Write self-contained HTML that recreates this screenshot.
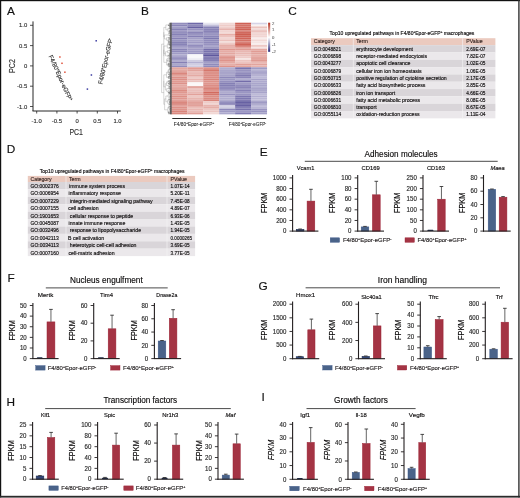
<!DOCTYPE html>
<html><head><meta charset="utf-8"><title>Figure</title>
<style>
html,body{margin:0;padding:0;background:#fff;width:520px;height:498px;overflow:hidden}
svg{display:block;will-change:transform}
text{font-family:"Liberation Sans", sans-serif}
</style></head>
<body>
<svg width="520" height="498" viewBox="0 0 520 498" font-family='"Liberation Sans", sans-serif'>
<rect width="520" height="498" fill="#fff"/>
<rect x="0" y="0" width="520" height="1.2" fill="#111"/>
<rect x="0" y="0" width="1.2" height="498" fill="#111"/>
<rect x="518.2" y="0" width="1.4" height="498" fill="#333"/>
<rect x="0" y="495.8" width="520" height="1.4" fill="#2a2a2a"/>
<rect x="0" y="497.2" width="520" height="0.8" fill="#6a6a6a"/>
<text x="7.00" y="15.40" font-size="11.8" fill="#111" stroke="#111" stroke-width="0.15">A</text>
<text x="141.00" y="15.40" font-size="11.8" fill="#111" stroke="#111" stroke-width="0.15">B</text>
<text x="288.30" y="15.30" font-size="11.8" fill="#111" stroke="#111" stroke-width="0.15">C</text>
<text x="6.80" y="152.80" font-size="11.8" fill="#111" stroke="#111" stroke-width="0.15">D</text>
<text x="259.80" y="155.80" font-size="11.8" fill="#111" stroke="#111" stroke-width="0.15">E</text>
<text x="7.60" y="281.50" font-size="11.8" fill="#111" stroke="#111" stroke-width="0.15">F</text>
<text x="258.50" y="289.50" font-size="11.8" fill="#111" stroke="#111" stroke-width="0.15">G</text>
<text x="6.60" y="405.90" font-size="11.8" fill="#111" stroke="#111" stroke-width="0.15">H</text>
<text x="261.40" y="400.80" font-size="11.8" fill="#111" stroke="#111" stroke-width="0.15">I</text>
<line x1="33" y1="21.4" x2="33" y2="111" stroke="#262626" stroke-width="1"/>
<line x1="32.5" y1="111" x2="120.8" y2="111" stroke="#262626" stroke-width="1"/>
<line x1="30" y1="25.30" x2="33" y2="25.30" stroke="#262626" stroke-width="0.8"/>
<text x="27.20" y="27.40" font-size="5.9" text-anchor="end" fill="#333" stroke="#333" stroke-width="0.15">1.0</text>
<line x1="30" y1="45.60" x2="33" y2="45.60" stroke="#262626" stroke-width="0.8"/>
<text x="27.20" y="47.70" font-size="5.9" text-anchor="end" fill="#333" stroke="#333" stroke-width="0.15">0.5</text>
<line x1="30" y1="65.90" x2="33" y2="65.90" stroke="#262626" stroke-width="0.8"/>
<text x="27.20" y="68.00" font-size="5.9" text-anchor="end" fill="#333" stroke="#333" stroke-width="0.15">0</text>
<line x1="30" y1="86.20" x2="33" y2="86.20" stroke="#262626" stroke-width="0.8"/>
<text x="27.20" y="88.30" font-size="5.9" text-anchor="end" fill="#333" stroke="#333" stroke-width="0.15">-0.5</text>
<line x1="30" y1="106.50" x2="33" y2="106.50" stroke="#262626" stroke-width="0.8"/>
<text x="27.20" y="108.60" font-size="5.9" text-anchor="end" fill="#333" stroke="#333" stroke-width="0.15">-1.0</text>
<line x1="36.70" y1="111" x2="36.70" y2="113.5" stroke="#262626" stroke-width="0.8"/>
<text x="36.70" y="122.50" font-size="5.9" text-anchor="middle" fill="#333" stroke="#333" stroke-width="0.15">-1.0</text>
<line x1="56.90" y1="111" x2="56.90" y2="113.5" stroke="#262626" stroke-width="0.8"/>
<text x="56.90" y="122.50" font-size="5.9" text-anchor="middle" fill="#333" stroke="#333" stroke-width="0.15">-0.5</text>
<line x1="77.10" y1="111" x2="77.10" y2="113.5" stroke="#262626" stroke-width="0.8"/>
<text x="77.10" y="122.50" font-size="5.9" text-anchor="middle" fill="#333" stroke="#333" stroke-width="0.15">0</text>
<line x1="97.30" y1="111" x2="97.30" y2="113.5" stroke="#262626" stroke-width="0.8"/>
<text x="97.30" y="122.50" font-size="5.9" text-anchor="middle" fill="#333" stroke="#333" stroke-width="0.15">0.5</text>
<line x1="117.50" y1="111" x2="117.50" y2="113.5" stroke="#262626" stroke-width="0.8"/>
<text x="117.50" y="122.50" font-size="5.9" text-anchor="middle" fill="#333" stroke="#333" stroke-width="0.15">1.0</text>
<text x="76.20" y="134.60" font-size="8.8" text-anchor="middle" textLength="13.50" lengthAdjust="spacingAndGlyphs" fill="#333" stroke="#333" stroke-width="0.15">PC1</text>
<text x="14.50" y="66.00" font-size="8.8" text-anchor="middle" textLength="13.80" lengthAdjust="spacingAndGlyphs" fill="#333" stroke="#333" stroke-width="0.15" transform="rotate(-90 14.50 66.00)">PC2</text>
<rect x="59.15" y="56.25" width="1.5" height="1.5" fill="#e0503a"/>
<rect x="61.25" y="62.55" width="1.5" height="1.5" fill="#e0503a"/>
<rect x="64.15" y="71.45" width="1.5" height="1.5" fill="#e0503a"/>
<rect x="95.45" y="40.05" width="1.5" height="1.5" fill="#3a3aa0"/>
<rect x="90.65" y="74.25" width="1.5" height="1.5" fill="#3a3aa0"/>
<rect x="86.65" y="88.35" width="1.5" height="1.5" fill="#3a3aa0"/>
<text x="0" y="0" font-size="6.2" fill="#333" stroke="#333" stroke-width="0.15" textLength="49.5" lengthAdjust="spacingAndGlyphs" transform="translate(48.6,56.3) rotate(66)">F4/80<tspan dy="-2.23" font-size="3.72">+</tspan><tspan dy="2.23">Epor-eGFP</tspan><tspan dy="-2.23" font-size="3.72">+</tspan><tspan dy="2.23"></tspan></text>
<text x="0" y="0" font-size="6.2" fill="#333" stroke="#333" stroke-width="0.15" textLength="47" lengthAdjust="spacingAndGlyphs" transform="translate(102.2,84.5) rotate(-77)">F4/80<tspan dy="-2.23" font-size="3.72">+</tspan><tspan dy="2.23">Epor-eGFP</tspan><tspan dy="-2.23" font-size="3.72">-</tspan><tspan dy="2.23"></tspan></text>
<rect x="171.40" y="22.70" width="15.98" height="1.91" fill="#928dbd"/>
<rect x="171.40" y="24.56" width="15.98" height="1.91" fill="#8b85b8"/>
<rect x="171.40" y="26.42" width="15.98" height="1.91" fill="#a19dc6"/>
<rect x="171.40" y="28.27" width="15.98" height="1.91" fill="#8782b6"/>
<rect x="171.40" y="30.13" width="15.98" height="1.91" fill="#9c97c3"/>
<rect x="171.40" y="31.99" width="15.98" height="1.91" fill="#948fbe"/>
<rect x="171.40" y="33.85" width="15.98" height="1.91" fill="#8681b6"/>
<rect x="171.40" y="35.71" width="15.98" height="1.91" fill="#9b96c2"/>
<rect x="171.40" y="37.57" width="15.98" height="1.91" fill="#8680b5"/>
<rect x="171.40" y="39.42" width="15.98" height="1.91" fill="#9793c0"/>
<rect x="171.40" y="41.28" width="15.98" height="1.91" fill="#8782b6"/>
<rect x="171.40" y="43.14" width="15.98" height="1.91" fill="#8883b7"/>
<rect x="171.40" y="45.00" width="15.98" height="1.91" fill="#9792c0"/>
<rect x="171.40" y="46.86" width="15.98" height="1.91" fill="#a9a5cb"/>
<rect x="171.40" y="48.72" width="15.98" height="1.91" fill="#8984b7"/>
<rect x="171.40" y="50.57" width="15.98" height="1.91" fill="#8e89ba"/>
<rect x="171.40" y="52.43" width="15.98" height="1.91" fill="#a09cc5"/>
<rect x="171.40" y="54.29" width="15.98" height="1.91" fill="#aeabce"/>
<rect x="171.40" y="56.15" width="15.98" height="1.91" fill="#9e99c4"/>
<rect x="171.40" y="58.01" width="15.98" height="1.91" fill="#9691bf"/>
<rect x="171.40" y="59.87" width="15.98" height="1.91" fill="#b0accf"/>
<rect x="171.40" y="61.72" width="15.98" height="1.91" fill="#8680b5"/>
<rect x="171.40" y="63.58" width="15.98" height="1.91" fill="#aaa7cb"/>
<rect x="171.40" y="65.44" width="15.98" height="1.91" fill="#918cbc"/>
<rect x="171.40" y="67.30" width="15.98" height="1.93" fill="#e3a69f"/>
<rect x="171.40" y="69.18" width="15.98" height="1.93" fill="#e3a7a0"/>
<rect x="171.40" y="71.06" width="15.98" height="1.93" fill="#e19e97"/>
<rect x="171.40" y="72.94" width="15.98" height="1.93" fill="#da867d"/>
<rect x="171.40" y="74.82" width="15.98" height="1.93" fill="#e2a49d"/>
<rect x="171.40" y="76.70" width="15.98" height="1.93" fill="#dd9189"/>
<rect x="171.40" y="78.58" width="15.98" height="1.93" fill="#dc8e86"/>
<rect x="171.40" y="80.46" width="15.98" height="1.93" fill="#e09b93"/>
<rect x="171.40" y="82.34" width="15.98" height="1.93" fill="#dd928a"/>
<rect x="171.40" y="84.22" width="15.98" height="1.93" fill="#e4a9a3"/>
<rect x="171.40" y="86.10" width="15.98" height="1.93" fill="#e4aaa3"/>
<rect x="171.40" y="87.98" width="15.98" height="1.93" fill="#e2a39c"/>
<rect x="171.40" y="89.86" width="15.98" height="1.93" fill="#dc8c83"/>
<rect x="171.40" y="91.74" width="15.98" height="1.93" fill="#df9890"/>
<rect x="171.40" y="93.62" width="15.98" height="1.93" fill="#e19d96"/>
<rect x="171.40" y="95.50" width="15.98" height="1.93" fill="#dd9188"/>
<rect x="171.40" y="97.38" width="15.98" height="1.93" fill="#df978f"/>
<rect x="171.40" y="99.26" width="15.98" height="1.93" fill="#e19e97"/>
<rect x="171.40" y="101.14" width="15.98" height="1.93" fill="#da877e"/>
<rect x="171.40" y="103.02" width="15.98" height="1.93" fill="#db8b83"/>
<rect x="171.40" y="104.90" width="15.98" height="1.93" fill="#e2a19a"/>
<rect x="171.40" y="106.78" width="15.98" height="1.93" fill="#dd9189"/>
<rect x="171.40" y="108.66" width="15.98" height="1.93" fill="#de938b"/>
<rect x="171.40" y="110.54" width="15.98" height="1.93" fill="#d98379"/>
<rect x="171.40" y="112.42" width="15.98" height="1.93" fill="#db8a81"/>
<rect x="187.33" y="22.70" width="15.98" height="1.91" fill="#6f69a8"/>
<rect x="187.33" y="24.56" width="15.98" height="1.91" fill="#8e89ba"/>
<rect x="187.33" y="26.42" width="15.98" height="1.91" fill="#6861a3"/>
<rect x="187.33" y="28.27" width="15.98" height="1.91" fill="#9792bf"/>
<rect x="187.33" y="30.13" width="15.98" height="1.91" fill="#a6a2c9"/>
<rect x="187.33" y="31.99" width="15.98" height="1.91" fill="#8b85b8"/>
<rect x="187.33" y="33.85" width="15.98" height="1.91" fill="#9a95c1"/>
<rect x="187.33" y="35.71" width="15.98" height="1.91" fill="#8680b5"/>
<rect x="187.33" y="37.57" width="15.98" height="1.91" fill="#a29ec6"/>
<rect x="187.33" y="39.42" width="15.98" height="1.91" fill="#a6a2c9"/>
<rect x="187.33" y="41.28" width="15.98" height="1.91" fill="#9e99c4"/>
<rect x="187.33" y="43.14" width="15.98" height="1.91" fill="#aba7cc"/>
<rect x="187.33" y="45.00" width="15.98" height="1.91" fill="#928dbd"/>
<rect x="187.33" y="46.86" width="15.98" height="1.91" fill="#a39fc7"/>
<rect x="187.33" y="48.72" width="15.98" height="1.91" fill="#9f9ac4"/>
<rect x="187.33" y="50.57" width="15.98" height="1.91" fill="#9e9ac4"/>
<rect x="187.33" y="52.43" width="15.98" height="1.91" fill="#9894c1"/>
<rect x="187.33" y="54.29" width="15.98" height="1.91" fill="#f7f7fa"/>
<rect x="187.33" y="56.15" width="15.98" height="1.91" fill="#f7f7fa"/>
<rect x="187.33" y="58.01" width="15.98" height="1.91" fill="#efeff5"/>
<rect x="187.33" y="59.87" width="15.98" height="1.91" fill="#cecce1"/>
<rect x="187.33" y="61.72" width="15.98" height="1.91" fill="#b3b0d1"/>
<rect x="187.33" y="63.58" width="15.98" height="1.91" fill="#d0cee2"/>
<rect x="187.33" y="65.44" width="15.98" height="1.91" fill="#cecce1"/>
<rect x="187.33" y="67.30" width="15.98" height="1.93" fill="#e09b93"/>
<rect x="187.33" y="69.18" width="15.98" height="1.93" fill="#e2a39c"/>
<rect x="187.33" y="71.06" width="15.98" height="1.93" fill="#eabdb8"/>
<rect x="187.33" y="72.94" width="15.98" height="1.93" fill="#e8b8b3"/>
<rect x="187.33" y="74.82" width="15.98" height="1.93" fill="#e4aaa4"/>
<rect x="187.33" y="76.70" width="15.98" height="1.93" fill="#edc9c5"/>
<rect x="187.33" y="78.58" width="15.98" height="1.93" fill="#e7b4af"/>
<rect x="187.33" y="80.46" width="15.98" height="1.93" fill="#ebc2be"/>
<rect x="187.33" y="82.34" width="15.98" height="1.93" fill="#fbf7f7"/>
<rect x="187.33" y="84.22" width="15.98" height="1.93" fill="#fbf7f7"/>
<rect x="187.33" y="86.10" width="15.98" height="1.93" fill="#e3a69f"/>
<rect x="187.33" y="87.98" width="15.98" height="1.93" fill="#ecc4c0"/>
<rect x="187.33" y="89.86" width="15.98" height="1.93" fill="#eabeba"/>
<rect x="187.33" y="91.74" width="15.98" height="1.93" fill="#e8b7b2"/>
<rect x="187.33" y="93.62" width="15.98" height="1.93" fill="#e2a19a"/>
<rect x="187.33" y="95.50" width="15.98" height="1.93" fill="#edc6c2"/>
<rect x="187.33" y="97.38" width="15.98" height="1.93" fill="#e7b5af"/>
<rect x="187.33" y="99.26" width="15.98" height="1.93" fill="#e6b0aa"/>
<rect x="187.33" y="101.14" width="15.98" height="1.93" fill="#e1a099"/>
<rect x="187.33" y="103.02" width="15.98" height="1.93" fill="#e2a39c"/>
<rect x="187.33" y="104.90" width="15.98" height="1.93" fill="#e2a19a"/>
<rect x="187.33" y="106.78" width="15.98" height="1.93" fill="#eabdb8"/>
<rect x="187.33" y="108.66" width="15.98" height="1.93" fill="#e8b6b1"/>
<rect x="187.33" y="110.54" width="15.98" height="1.93" fill="#e9b9b4"/>
<rect x="187.33" y="112.42" width="15.98" height="1.93" fill="#e1a099"/>
<rect x="203.27" y="22.70" width="15.98" height="1.91" fill="#e7e6f0"/>
<rect x="203.27" y="24.56" width="15.98" height="1.91" fill="#c3c0da"/>
<rect x="203.27" y="26.42" width="15.98" height="1.91" fill="#8681b5"/>
<rect x="203.27" y="28.27" width="15.98" height="1.91" fill="#8983b7"/>
<rect x="203.27" y="30.13" width="15.98" height="1.91" fill="#8983b7"/>
<rect x="203.27" y="31.99" width="15.98" height="1.91" fill="#948fbe"/>
<rect x="203.27" y="33.85" width="15.98" height="1.91" fill="#9994c1"/>
<rect x="203.27" y="35.71" width="15.98" height="1.91" fill="#8a85b8"/>
<rect x="203.27" y="37.57" width="15.98" height="1.91" fill="#7e79b1"/>
<rect x="203.27" y="39.42" width="15.98" height="1.91" fill="#918cbc"/>
<rect x="203.27" y="41.28" width="15.98" height="1.91" fill="#8f8abb"/>
<rect x="203.27" y="43.14" width="15.98" height="1.91" fill="#9893c0"/>
<rect x="203.27" y="45.00" width="15.98" height="1.91" fill="#a9a5cb"/>
<rect x="203.27" y="46.86" width="15.98" height="1.91" fill="#9d99c3"/>
<rect x="203.27" y="48.72" width="15.98" height="1.91" fill="#746daa"/>
<rect x="203.27" y="50.57" width="15.98" height="1.91" fill="#7872ad"/>
<rect x="203.27" y="52.43" width="15.98" height="1.91" fill="#7b75af"/>
<rect x="203.27" y="54.29" width="15.98" height="1.91" fill="#5f589e"/>
<rect x="203.27" y="56.15" width="15.98" height="1.91" fill="#857fb5"/>
<rect x="203.27" y="58.01" width="15.98" height="1.91" fill="#807ab2"/>
<rect x="203.27" y="59.87" width="15.98" height="1.91" fill="#847eb4"/>
<rect x="203.27" y="61.72" width="15.98" height="1.91" fill="#a29ec6"/>
<rect x="203.27" y="63.58" width="15.98" height="1.91" fill="#908bbb"/>
<rect x="203.27" y="65.44" width="15.98" height="1.91" fill="#908bbc"/>
<rect x="203.27" y="67.30" width="15.98" height="1.93" fill="#dd9087"/>
<rect x="203.27" y="69.18" width="15.98" height="1.93" fill="#d5776c"/>
<rect x="203.27" y="71.06" width="15.98" height="1.93" fill="#dd928a"/>
<rect x="203.27" y="72.94" width="15.98" height="1.93" fill="#dd9189"/>
<rect x="203.27" y="74.82" width="15.98" height="1.93" fill="#db8b82"/>
<rect x="203.27" y="76.70" width="15.98" height="1.93" fill="#dc8d84"/>
<rect x="203.27" y="78.58" width="15.98" height="1.93" fill="#d9847b"/>
<rect x="203.27" y="80.46" width="15.98" height="1.93" fill="#dd928a"/>
<rect x="203.27" y="82.34" width="15.98" height="1.93" fill="#de958d"/>
<rect x="203.27" y="84.22" width="15.98" height="1.93" fill="#dc8d85"/>
<rect x="203.27" y="86.10" width="15.98" height="1.93" fill="#dd9088"/>
<rect x="203.27" y="87.98" width="15.98" height="1.93" fill="#d9837a"/>
<rect x="203.27" y="89.86" width="15.98" height="1.93" fill="#de938b"/>
<rect x="203.27" y="91.74" width="15.98" height="1.93" fill="#d26b60"/>
<rect x="203.27" y="93.62" width="15.98" height="1.93" fill="#d6776d"/>
<rect x="203.27" y="95.50" width="15.98" height="1.93" fill="#dc8e85"/>
<rect x="203.27" y="97.38" width="15.98" height="1.93" fill="#db8980"/>
<rect x="203.27" y="99.26" width="15.98" height="1.93" fill="#d9847b"/>
<rect x="203.27" y="101.14" width="15.98" height="1.93" fill="#eecbc7"/>
<rect x="203.27" y="103.02" width="15.98" height="1.93" fill="#f1d6d3"/>
<rect x="203.27" y="104.90" width="15.98" height="1.93" fill="#e7b4ae"/>
<rect x="203.27" y="106.78" width="15.98" height="1.93" fill="#e5ada7"/>
<rect x="203.27" y="108.66" width="15.98" height="1.93" fill="#ecc6c2"/>
<rect x="203.27" y="110.54" width="15.98" height="1.93" fill="#ecc5c1"/>
<rect x="203.27" y="112.42" width="15.98" height="1.93" fill="#f2d8d5"/>
<rect x="219.20" y="22.70" width="15.98" height="1.91" fill="#f1d7d4"/>
<rect x="219.20" y="24.56" width="15.98" height="1.91" fill="#eeccc8"/>
<rect x="219.20" y="26.42" width="15.98" height="1.91" fill="#efcfcc"/>
<rect x="219.20" y="28.27" width="15.98" height="1.91" fill="#e7b4af"/>
<rect x="219.20" y="30.13" width="15.98" height="1.91" fill="#f1d4d1"/>
<rect x="219.20" y="31.99" width="15.98" height="1.91" fill="#f3dbd8"/>
<rect x="219.20" y="33.85" width="15.98" height="1.91" fill="#e6afa9"/>
<rect x="219.20" y="35.71" width="15.98" height="1.91" fill="#ecc3be"/>
<rect x="219.20" y="37.57" width="15.98" height="1.91" fill="#f1d5d2"/>
<rect x="219.20" y="39.42" width="15.98" height="1.91" fill="#ebc2be"/>
<rect x="219.20" y="41.28" width="15.98" height="1.91" fill="#f2dbd8"/>
<rect x="219.20" y="43.14" width="15.98" height="1.91" fill="#ecc3be"/>
<rect x="219.20" y="45.00" width="15.98" height="1.91" fill="#e5ada7"/>
<rect x="219.20" y="46.86" width="15.98" height="1.91" fill="#e7b3ad"/>
<rect x="219.20" y="48.72" width="15.98" height="1.91" fill="#df978f"/>
<rect x="219.20" y="50.57" width="15.98" height="1.91" fill="#e5aca6"/>
<rect x="219.20" y="52.43" width="15.98" height="1.91" fill="#e3a7a0"/>
<rect x="219.20" y="54.29" width="15.98" height="1.91" fill="#e6b0ab"/>
<rect x="219.20" y="56.15" width="15.98" height="1.91" fill="#de948c"/>
<rect x="219.20" y="58.01" width="15.98" height="1.91" fill="#e19f98"/>
<rect x="219.20" y="59.87" width="15.98" height="1.91" fill="#de938b"/>
<rect x="219.20" y="61.72" width="15.98" height="1.91" fill="#e4a9a2"/>
<rect x="219.20" y="63.58" width="15.98" height="1.91" fill="#e5aea8"/>
<rect x="219.20" y="65.44" width="15.98" height="1.91" fill="#dd928a"/>
<rect x="219.20" y="67.30" width="15.98" height="1.93" fill="#b0adcf"/>
<rect x="219.20" y="69.18" width="15.98" height="1.93" fill="#aaa6cb"/>
<rect x="219.20" y="71.06" width="15.98" height="1.93" fill="#a8a4ca"/>
<rect x="219.20" y="72.94" width="15.98" height="1.93" fill="#a9a5ca"/>
<rect x="219.20" y="74.82" width="15.98" height="1.93" fill="#a5a1c8"/>
<rect x="219.20" y="76.70" width="15.98" height="1.93" fill="#8e89ba"/>
<rect x="219.20" y="78.58" width="15.98" height="1.93" fill="#9b97c2"/>
<rect x="219.20" y="80.46" width="15.98" height="1.93" fill="#948fbe"/>
<rect x="219.20" y="82.34" width="15.98" height="1.93" fill="#8580b5"/>
<rect x="219.20" y="84.22" width="15.98" height="1.93" fill="#8580b5"/>
<rect x="219.20" y="86.10" width="15.98" height="1.93" fill="#908bbc"/>
<rect x="219.20" y="87.98" width="15.98" height="1.93" fill="#908abb"/>
<rect x="219.20" y="89.86" width="15.98" height="1.93" fill="#a39fc7"/>
<rect x="219.20" y="91.74" width="15.98" height="1.93" fill="#afabce"/>
<rect x="219.20" y="93.62" width="15.98" height="1.93" fill="#9893c0"/>
<rect x="219.20" y="95.50" width="15.98" height="1.93" fill="#aeaace"/>
<rect x="219.20" y="97.38" width="15.98" height="1.93" fill="#b0adcf"/>
<rect x="219.20" y="99.26" width="15.98" height="1.93" fill="#afabce"/>
<rect x="219.20" y="101.14" width="15.98" height="1.93" fill="#948fbe"/>
<rect x="219.20" y="103.02" width="15.98" height="1.93" fill="#8e89ba"/>
<rect x="219.20" y="104.90" width="15.98" height="1.93" fill="#d1cfe3"/>
<rect x="219.20" y="106.78" width="15.98" height="1.93" fill="#d0cee2"/>
<rect x="219.20" y="108.66" width="15.98" height="1.93" fill="#8d88ba"/>
<rect x="219.20" y="110.54" width="15.98" height="1.93" fill="#a09cc5"/>
<rect x="219.20" y="112.42" width="15.98" height="1.93" fill="#aca9cd"/>
<rect x="235.13" y="22.70" width="15.98" height="1.91" fill="#cf6155"/>
<rect x="235.13" y="24.56" width="15.98" height="1.91" fill="#d47267"/>
<rect x="235.13" y="26.42" width="15.98" height="1.91" fill="#d26a5e"/>
<rect x="235.13" y="28.27" width="15.98" height="1.91" fill="#cf6357"/>
<rect x="235.13" y="30.13" width="15.98" height="1.91" fill="#d9857c"/>
<rect x="235.13" y="31.99" width="15.98" height="1.91" fill="#d1695e"/>
<rect x="235.13" y="33.85" width="15.98" height="1.91" fill="#ce5e51"/>
<rect x="235.13" y="35.71" width="15.98" height="1.91" fill="#d06458"/>
<rect x="235.13" y="37.57" width="15.98" height="1.91" fill="#d06559"/>
<rect x="235.13" y="39.42" width="15.98" height="1.91" fill="#d47267"/>
<rect x="235.13" y="41.28" width="15.98" height="1.91" fill="#d88077"/>
<rect x="235.13" y="43.14" width="15.98" height="1.91" fill="#d06357"/>
<rect x="235.13" y="45.00" width="15.98" height="1.91" fill="#d6796f"/>
<rect x="235.13" y="46.86" width="15.98" height="1.91" fill="#e3a49d"/>
<rect x="235.13" y="48.72" width="15.98" height="1.91" fill="#e09c95"/>
<rect x="235.13" y="50.57" width="15.98" height="1.91" fill="#e8b7b2"/>
<rect x="235.13" y="52.43" width="15.98" height="1.91" fill="#e8b7b2"/>
<rect x="235.13" y="54.29" width="15.98" height="1.91" fill="#ebc1bc"/>
<rect x="235.13" y="56.15" width="15.98" height="1.91" fill="#eecbc8"/>
<rect x="235.13" y="58.01" width="15.98" height="1.91" fill="#f6e6e4"/>
<rect x="235.13" y="59.87" width="15.98" height="1.91" fill="#ecc4c0"/>
<rect x="235.13" y="61.72" width="15.98" height="1.91" fill="#ecc3bf"/>
<rect x="235.13" y="63.58" width="15.98" height="1.91" fill="#e19f98"/>
<rect x="235.13" y="65.44" width="15.98" height="1.91" fill="#e2a49d"/>
<rect x="235.13" y="67.30" width="15.98" height="1.93" fill="#7a74ae"/>
<rect x="235.13" y="69.18" width="15.98" height="1.93" fill="#9893c0"/>
<rect x="235.13" y="71.06" width="15.98" height="1.93" fill="#9f9bc5"/>
<rect x="235.13" y="72.94" width="15.98" height="1.93" fill="#918cbc"/>
<rect x="235.13" y="74.82" width="15.98" height="1.93" fill="#837db3"/>
<rect x="235.13" y="76.70" width="15.98" height="1.93" fill="#8c86b9"/>
<rect x="235.13" y="78.58" width="15.98" height="1.93" fill="#b1aecf"/>
<rect x="235.13" y="80.46" width="15.98" height="1.93" fill="#746daa"/>
<rect x="235.13" y="82.34" width="15.98" height="1.93" fill="#9f9ac4"/>
<rect x="235.13" y="84.22" width="15.98" height="1.93" fill="#908bbc"/>
<rect x="235.13" y="86.10" width="15.98" height="1.93" fill="#8b85b8"/>
<rect x="235.13" y="87.98" width="15.98" height="1.93" fill="#9d99c3"/>
<rect x="235.13" y="89.86" width="15.98" height="1.93" fill="#8781b6"/>
<rect x="235.13" y="91.74" width="15.98" height="1.93" fill="#9a96c2"/>
<rect x="235.13" y="93.62" width="15.98" height="1.93" fill="#9893c0"/>
<rect x="235.13" y="95.50" width="15.98" height="1.93" fill="#7d77b0"/>
<rect x="235.13" y="97.38" width="15.98" height="1.93" fill="#7e79b1"/>
<rect x="235.13" y="99.26" width="15.98" height="1.93" fill="#807ab2"/>
<rect x="235.13" y="101.14" width="15.98" height="1.93" fill="#6761a3"/>
<rect x="235.13" y="103.02" width="15.98" height="1.93" fill="#7771ac"/>
<rect x="235.13" y="104.90" width="15.98" height="1.93" fill="#6861a3"/>
<rect x="235.13" y="106.78" width="15.98" height="1.93" fill="#8680b5"/>
<rect x="235.13" y="108.66" width="15.98" height="1.93" fill="#7973ad"/>
<rect x="235.13" y="110.54" width="15.98" height="1.93" fill="#9c97c3"/>
<rect x="235.13" y="112.42" width="15.98" height="1.93" fill="#837db4"/>
<rect x="251.07" y="22.70" width="15.98" height="1.91" fill="#d6d4e6"/>
<rect x="251.07" y="24.56" width="15.98" height="1.91" fill="#f9f2f1"/>
<rect x="251.07" y="26.42" width="15.98" height="1.91" fill="#ebc3be"/>
<rect x="251.07" y="28.27" width="15.98" height="1.91" fill="#f2dad7"/>
<rect x="251.07" y="30.13" width="15.98" height="1.91" fill="#ebc2be"/>
<rect x="251.07" y="31.99" width="15.98" height="1.91" fill="#f1d6d3"/>
<rect x="251.07" y="33.85" width="15.98" height="1.91" fill="#f1d4d1"/>
<rect x="251.07" y="35.71" width="15.98" height="1.91" fill="#f1d5d2"/>
<rect x="251.07" y="37.57" width="15.98" height="1.91" fill="#f8edec"/>
<rect x="251.07" y="39.42" width="15.98" height="1.91" fill="#f2d9d6"/>
<rect x="251.07" y="41.28" width="15.98" height="1.91" fill="#f5e5e3"/>
<rect x="251.07" y="43.14" width="15.98" height="1.91" fill="#f8edec"/>
<rect x="251.07" y="45.00" width="15.98" height="1.91" fill="#edc8c4"/>
<rect x="251.07" y="46.86" width="15.98" height="1.91" fill="#f6e5e4"/>
<rect x="251.07" y="48.72" width="15.98" height="1.91" fill="#e4a8a1"/>
<rect x="251.07" y="50.57" width="15.98" height="1.91" fill="#e09c94"/>
<rect x="251.07" y="52.43" width="15.98" height="1.91" fill="#e2a49d"/>
<rect x="251.07" y="54.29" width="15.98" height="1.91" fill="#e6afa9"/>
<rect x="251.07" y="56.15" width="15.98" height="1.91" fill="#e3a69f"/>
<rect x="251.07" y="58.01" width="15.98" height="1.91" fill="#e2a49d"/>
<rect x="251.07" y="59.87" width="15.98" height="1.91" fill="#df9991"/>
<rect x="251.07" y="61.72" width="15.98" height="1.91" fill="#e9b9b4"/>
<rect x="251.07" y="63.58" width="15.98" height="1.91" fill="#e2a49d"/>
<rect x="251.07" y="65.44" width="15.98" height="1.91" fill="#e7b2ad"/>
<rect x="251.07" y="67.30" width="15.98" height="1.93" fill="#9f9bc4"/>
<rect x="251.07" y="69.18" width="15.98" height="1.93" fill="#b5b2d2"/>
<rect x="251.07" y="71.06" width="15.98" height="1.93" fill="#a9a5cb"/>
<rect x="251.07" y="72.94" width="15.98" height="1.93" fill="#aca8cc"/>
<rect x="251.07" y="74.82" width="15.98" height="1.93" fill="#b5b1d2"/>
<rect x="251.07" y="76.70" width="15.98" height="1.93" fill="#bbb8d6"/>
<rect x="251.07" y="78.58" width="15.98" height="1.93" fill="#a6a2c9"/>
<rect x="251.07" y="80.46" width="15.98" height="1.93" fill="#aeaace"/>
<rect x="251.07" y="82.34" width="15.98" height="1.93" fill="#a9a5cb"/>
<rect x="251.07" y="84.22" width="15.98" height="1.93" fill="#a9a6cb"/>
<rect x="251.07" y="86.10" width="15.98" height="1.93" fill="#b1aed0"/>
<rect x="251.07" y="87.98" width="15.98" height="1.93" fill="#a7a3c9"/>
<rect x="251.07" y="89.86" width="15.98" height="1.93" fill="#aaa7cb"/>
<rect x="251.07" y="91.74" width="15.98" height="1.93" fill="#a8a4ca"/>
<rect x="251.07" y="93.62" width="15.98" height="1.93" fill="#bdbad7"/>
<rect x="251.07" y="95.50" width="15.98" height="1.93" fill="#b2aed0"/>
<rect x="251.07" y="97.38" width="15.98" height="1.93" fill="#bab7d5"/>
<rect x="251.07" y="99.26" width="15.98" height="1.93" fill="#bdbad7"/>
<rect x="251.07" y="101.14" width="15.98" height="1.93" fill="#9e9ac4"/>
<rect x="251.07" y="103.02" width="15.98" height="1.93" fill="#aca8cc"/>
<rect x="251.07" y="104.90" width="15.98" height="1.93" fill="#bdbad7"/>
<rect x="251.07" y="106.78" width="15.98" height="1.93" fill="#b8b5d4"/>
<rect x="251.07" y="108.66" width="15.98" height="1.93" fill="#9994c1"/>
<rect x="251.07" y="110.54" width="15.98" height="1.93" fill="#9893c0"/>
<rect x="251.07" y="112.42" width="15.98" height="1.93" fill="#a6a2c9"/>
<path d="M171.40 23.26L170.93 23.26M171.40 24.37L170.93 24.37M170.93 23.26L170.93 24.37M171.40 25.49L169.72 25.49M171.40 26.60L169.72 26.60M169.72 25.49L169.72 26.60M170.93 23.81L168.89 23.81M169.72 26.04L168.89 26.04M168.89 23.81L168.89 26.04M171.40 27.72L170.30 27.72M171.40 28.83L170.30 28.83M170.30 27.72L170.30 28.83M171.40 29.95L170.03 29.95M171.40 31.06L170.03 31.06M170.03 29.95L170.03 31.06M170.03 30.50L169.40 30.50M171.40 32.18L169.40 32.18M169.40 30.50L169.40 32.18M170.30 28.27L167.90 28.27M169.40 31.34L167.90 31.34M167.90 28.27L167.90 31.34M168.89 24.93L165.83 24.93M167.90 29.81L165.83 29.81M165.83 24.93L165.83 29.81M171.40 33.29L170.94 33.29M171.40 34.41L170.94 34.41M170.94 33.29L170.94 34.41M171.40 35.52L170.10 35.52M171.40 36.64L170.10 36.64M170.10 35.52L170.10 36.64M170.94 33.85L169.21 33.85M170.10 36.08L169.21 36.08M169.21 33.85L169.21 36.08M171.40 38.87L169.90 38.87M171.40 39.98L169.90 39.98M169.90 38.87L169.90 39.98M169.90 39.42L168.09 39.42M171.40 41.10L168.09 41.10M168.09 39.42L168.09 41.10M171.40 37.75L166.49 37.75M168.09 40.26L166.49 40.26M166.49 37.75L166.49 40.26M169.21 34.96L164.36 34.96M166.49 39.01L164.36 39.01M164.36 34.96L164.36 39.01M165.83 27.37L163.80 27.37M164.36 36.99L163.80 36.99M163.80 27.37L163.80 36.99M171.40 42.21L170.82 42.21M171.40 43.33L170.82 43.33M170.82 42.21L170.82 43.33M171.40 44.44L169.51 44.44M171.40 45.56L169.51 45.56M169.51 44.44L169.51 45.56M170.82 42.77L168.39 42.77M169.51 45.00L168.39 45.00M168.39 42.77L168.39 45.00M171.40 46.67L170.24 46.67M171.40 47.79L170.24 47.79M170.24 46.67L170.24 47.79M170.24 47.23L169.23 47.23M171.40 48.90L169.23 48.90M169.23 47.23L169.23 48.90M168.39 43.88L167.33 43.88M169.23 48.07L167.33 48.07M167.33 43.88L167.33 48.07M171.40 50.02L169.96 50.02M171.40 51.13L169.96 51.13M169.96 50.02L169.96 51.13M171.40 52.25L169.69 52.25M171.40 53.36L169.69 53.36M169.69 52.25L169.69 53.36M169.96 50.57L167.62 50.57M169.69 52.80L167.62 52.80M167.62 50.57L167.62 52.80M171.40 54.48L169.68 54.48M171.40 55.59L169.68 55.59M169.68 54.48L169.68 55.59M169.68 55.03L167.72 55.03M171.40 56.71L167.72 56.71M167.72 55.03L167.72 56.71M167.62 51.69L165.56 51.69M167.72 55.87L165.56 55.87M165.56 51.69L165.56 55.87M167.33 45.98L163.94 45.98M165.56 53.78L163.94 53.78M163.94 45.98L163.94 53.78M171.40 57.82L170.13 57.82M171.40 58.94L170.13 58.94M170.13 57.82L170.13 58.94M171.40 61.17L169.69 61.17M171.40 62.28L169.69 62.28M169.69 61.17L169.69 62.28M171.40 60.05L167.69 60.05M169.69 61.72L167.69 61.72M167.69 60.05L167.69 61.72M170.13 58.38L167.14 58.38M167.69 60.89L167.14 60.89M167.14 58.38L167.14 60.89M171.40 63.40L170.80 63.40M171.40 64.51L170.80 64.51M170.80 63.40L170.80 64.51M171.40 65.63L169.82 65.63M171.40 66.74L169.82 66.74M169.82 65.63L169.82 66.74M170.80 63.95L167.96 63.95M169.82 66.19L167.96 66.19M167.96 63.95L167.96 66.19M167.14 59.63L166.62 59.63M167.96 65.07L166.62 65.07M166.62 59.63L166.62 65.07M163.94 49.88L163.80 49.88M166.62 62.35L163.80 62.35M163.80 49.88L163.80 62.35M163.80 32.18L163.80 32.18M163.80 56.12L163.80 56.12M163.80 32.18L163.80 56.12M171.40 67.86L170.92 67.86M171.40 68.98L170.92 68.98M170.92 67.86L170.92 68.98M170.92 68.42L169.55 68.42M171.40 70.10L169.55 70.10M169.55 68.42L169.55 70.10M171.40 71.22L170.73 71.22M171.40 72.34L170.73 72.34M170.73 71.22L170.73 72.34M169.55 69.26L168.45 69.26M170.73 71.78L168.45 71.78M168.45 69.26L168.45 71.78M171.40 73.45L170.79 73.45M171.40 74.57L170.79 74.57M170.79 73.45L170.79 74.57M168.45 70.52L167.95 70.52M170.79 74.01L167.95 74.01M167.95 70.52L167.95 74.01M171.40 75.69L169.53 75.69M171.40 76.81L169.53 76.81M169.53 75.69L169.53 76.81M171.40 77.93L170.44 77.93M171.40 79.05L170.44 79.05M170.44 77.93L170.44 79.05M169.53 76.25L168.36 76.25M170.44 78.49L168.36 78.49M168.36 76.25L168.36 78.49M167.95 72.27L166.49 72.27M168.36 77.37L166.49 77.37M166.49 72.27L166.49 77.37M171.40 80.17L169.55 80.17M171.40 81.29L169.55 81.29M169.55 80.17L169.55 81.29M171.40 82.41L170.36 82.41M171.40 83.53L170.36 83.53M170.36 82.41L170.36 83.53M169.55 80.73L167.95 80.73M170.36 82.97L167.95 82.97M167.95 80.73L167.95 82.97M171.40 85.76L169.50 85.76M171.40 86.88L169.50 86.88M169.50 85.76L169.50 86.88M171.40 84.65L168.26 84.65M169.50 86.32L168.26 86.32M168.26 84.65L168.26 86.32M167.95 81.85L166.53 81.85M168.26 85.48L166.53 85.48M166.53 81.85L166.53 85.48M171.40 88.00L170.12 88.00M171.40 89.12L170.12 89.12M170.12 88.00L170.12 89.12M171.40 91.36L170.94 91.36M171.40 92.48L170.94 92.48M170.94 91.36L170.94 92.48M170.94 91.92L169.54 91.92M171.40 93.60L169.54 93.60M169.54 91.92L169.54 93.60M171.40 90.24L168.36 90.24M169.54 92.76L168.36 92.76M168.36 90.24L168.36 92.76M170.12 88.56L166.74 88.56M168.36 91.50L166.74 91.50M166.74 88.56L166.74 91.50M166.53 83.67L165.36 83.67M166.74 90.03L165.36 90.03M165.36 83.67L165.36 90.03M166.49 74.82L163.80 74.82M165.36 86.85L163.80 86.85M163.80 74.82L163.80 86.85M171.40 95.84L170.64 95.84M171.40 96.95L170.64 96.95M170.64 95.84L170.64 96.95M170.64 96.40L169.52 96.40M171.40 98.07L169.52 98.07M169.52 96.40L169.52 98.07M171.40 94.72L168.12 94.72M169.52 97.23L168.12 97.23M168.12 94.72L168.12 97.23M171.40 100.31L170.45 100.31M171.40 101.43L170.45 101.43M170.45 100.31L170.45 101.43M171.40 99.19L169.10 99.19M170.45 100.87L169.10 100.87M169.10 99.19L169.10 100.87M171.40 103.67L169.82 103.67M171.40 104.79L169.82 104.79M169.82 103.67L169.82 104.79M171.40 102.55L169.40 102.55M169.82 104.23L169.40 104.23M169.40 102.55L169.40 104.23M169.10 100.03L167.68 100.03M169.40 103.39L167.68 103.39M167.68 100.03L167.68 103.39M168.12 95.98L165.83 95.98M167.68 101.71L165.83 101.71M165.83 95.98L165.83 101.71M171.40 105.91L170.66 105.91M171.40 107.03L170.66 107.03M170.66 105.91L170.66 107.03M171.40 108.15L170.35 108.15M171.40 109.26L170.35 109.26M170.35 108.15L170.35 109.26M170.66 106.47L168.78 106.47M170.35 108.70L168.78 108.70M168.78 106.47L168.78 108.70M171.40 110.38L170.51 110.38M171.40 111.50L170.51 111.50M170.51 110.38L170.51 111.50M171.40 112.62L170.35 112.62M171.40 113.74L170.35 113.74M170.35 112.62L170.35 113.74M170.51 110.94L168.51 110.94M170.35 113.18L168.51 113.18M168.51 110.94L168.51 113.18M168.78 107.59L167.77 107.59M168.51 112.06L167.77 112.06M167.77 107.59L167.77 112.06M165.83 98.84L164.62 98.84M167.77 109.82L164.62 109.82M164.62 98.84L164.62 109.82M163.80 80.83L163.80 80.83M164.62 104.33L163.80 104.33M163.80 80.83L163.80 104.33M163.80 44.15L161.60 44.15M163.80 92.58L161.60 92.58M161.60 44.15L161.60 92.58" stroke="#8a8a8a" stroke-width="0.35" fill="none"/>
<rect x="170.50" y="22.70" width="0.9" height="91.60" fill="#222"/>
<path d="M169.11 23.26H171.40M168.86 24.37H171.40M167.98 25.49H171.40M169.08 26.60H171.40M168.98 27.72H171.40M168.79 28.83H171.40M169.76 29.95H171.40M168.97 31.06H171.40M168.69 32.18H171.40M168.30 33.29H171.40M169.97 34.41H171.40M169.47 35.52H171.40M169.98 36.64H171.40M168.26 37.75H171.40M168.54 38.87H171.40M170.10 39.98H171.40M167.84 41.10H171.40M167.88 42.21H171.40M168.63 43.33H171.40M168.72 44.44H171.40M169.82 45.56H171.40M170.16 46.67H171.40M168.93 47.79H171.40M170.06 48.90H171.40M169.74 50.02H171.40M169.62 51.13H171.40M170.13 52.25H171.40M169.09 53.36H171.40M169.14 54.48H171.40M168.18 55.59H171.40M168.95 56.71H171.40M168.66 57.82H171.40M169.00 58.94H171.40M168.61 60.05H171.40M169.10 61.17H171.40M169.53 62.28H171.40M167.81 63.40H171.40M167.81 64.51H171.40M168.18 65.63H171.40M168.50 66.74H171.40M169.44 67.86H171.40M169.65 68.98H171.40M169.51 70.10H171.40M170.03 71.22H171.40M168.36 72.34H171.40M169.24 73.45H171.40M168.17 74.57H171.40M169.27 75.69H171.40M167.90 76.81H171.40M168.17 77.93H171.40M170.20 79.05H171.40M169.70 80.17H171.40M168.02 81.29H171.40M169.07 82.41H171.40M167.85 83.53H171.40M169.25 84.65H171.40M170.02 85.76H171.40M168.69 86.88H171.40M168.33 88.00H171.40M169.55 89.12H171.40M169.99 90.24H171.40M169.40 91.36H171.40M167.89 92.48H171.40M168.38 93.60H171.40M169.92 94.72H171.40M169.61 95.84H171.40M169.96 96.95H171.40M170.06 98.07H171.40M168.29 99.19H171.40M169.77 100.31H171.40M168.86 101.43H171.40M169.13 102.55H171.40M169.74 103.67H171.40M168.44 104.79H171.40M169.89 105.91H171.40M168.66 107.03H171.40M169.92 108.15H171.40M169.19 109.26H171.40M169.69 110.38H171.40M169.55 111.50H171.40M167.87 112.62H171.40M168.27 113.74H171.40" stroke="#333" stroke-width="0.45" fill="none"/>
<defs><linearGradient id="cb" x1="0" y1="0" x2="0" y2="1"><stop offset="0" stop-color="#b2301f"/><stop offset="0.5" stop-color="#ffffff"/><stop offset="1" stop-color="#2a2a78"/></linearGradient></defs>
<rect x="268.1" y="22.7" width="2.1" height="29.1" fill="url(#cb)"/>
<text x="272.00" y="24.80" font-size="4.2" fill="#777" stroke="#777" stroke-width="0.15">2</text>
<text x="272.00" y="31.40" font-size="4.2" fill="#777" stroke="#777" stroke-width="0.15">1</text>
<text x="272.00" y="38.60" font-size="4.2" fill="#777" stroke="#777" stroke-width="0.15">0</text>
<text x="272.00" y="45.80" font-size="4.2" fill="#777" stroke="#777" stroke-width="0.15">-1</text>
<text x="272.00" y="52.60" font-size="4.2" fill="#777" stroke="#777" stroke-width="0.15">-2</text>
<line x1="172.3" y1="118.5" x2="211.3" y2="118.5" stroke="#2a2a2a" stroke-width="1"/>
<line x1="227.3" y1="118.5" x2="266.2" y2="118.5" stroke="#2a2a2a" stroke-width="1"/>
<text x="173.8" y="126.0" font-size="5.0" fill="#222" stroke="#222" stroke-width="0.06" textLength="40.4" lengthAdjust="spacingAndGlyphs">F4/80<tspan dy="-1.80" font-size="3.00">+</tspan><tspan dy="1.80">Epor-eGFP</tspan><tspan dy="-1.80" font-size="3.00">+</tspan><tspan dy="1.80"></tspan></text>
<text x="228.7" y="126.0" font-size="5.0" fill="#222" stroke="#222" stroke-width="0.06" textLength="37.5" lengthAdjust="spacingAndGlyphs">F4/80<tspan dy="-1.80" font-size="3.00">+</tspan><tspan dy="1.80">Epor-eGFP</tspan><tspan dy="-1.80" font-size="3.00">-</tspan><tspan dy="1.80"></tspan></text>
<text x="329.60" y="35.20" font-size="5.2" textLength="144.70" lengthAdjust="spacingAndGlyphs" stroke="#231f20" stroke-width="0.15">Top10 upregulated pathways in F4/80<tspan dy="-1.87" font-size="3.12">+</tspan><tspan dy="1.87">Epor-eGFP</tspan><tspan dy="-1.87" font-size="3.12">+</tspan><tspan dy="1.87"> macrophages</tspan></text>
<rect x="311.0" y="38.2" width="184.40" height="6.95" fill="#ebcabf"/>
<rect x="311.0" y="45.15" width="184.40" height="7.32" fill="#d9d5d9"/>
<rect x="311.0" y="52.47" width="184.40" height="7.32" fill="#ebe8eb"/>
<rect x="311.0" y="59.79" width="184.40" height="7.32" fill="#d9d5d9"/>
<rect x="311.0" y="67.11" width="184.40" height="7.32" fill="#ebe8eb"/>
<rect x="311.0" y="74.43" width="184.40" height="7.32" fill="#d9d5d9"/>
<rect x="311.0" y="81.75" width="184.40" height="7.32" fill="#ebe8eb"/>
<rect x="311.0" y="89.07" width="184.40" height="7.32" fill="#d9d5d9"/>
<rect x="311.0" y="96.39" width="184.40" height="7.32" fill="#ebe8eb"/>
<rect x="311.0" y="103.71" width="184.40" height="7.32" fill="#d9d5d9"/>
<rect x="311.0" y="111.03" width="184.40" height="7.32" fill="#ebe8eb"/>
<rect x="352.85" y="38.2" width="0.7" height="80.15" fill="#f6f4f5" opacity="0.9"/>
<rect x="462.35" y="38.2" width="0.7" height="80.15" fill="#f6f4f5" opacity="0.9"/>
<text x="313.70" y="43.44" font-size="5.2" fill="#3a2a26" stroke="#3a2a26" stroke-width="0.15">Category</text>
<text x="356.20" y="43.44" font-size="5.2" fill="#3a2a26" stroke="#3a2a26" stroke-width="0.15">Term</text>
<text x="466.30" y="43.44" font-size="5.2" fill="#3a2a26" stroke="#3a2a26" stroke-width="0.15">PValue</text>
<text x="313.70" y="50.58" font-size="5.2" textLength="27.40" lengthAdjust="spacingAndGlyphs" stroke="#231f20" stroke-width="0.15">GO:0048821</text>
<text x="356.20" y="50.58" font-size="5.2" stroke="#231f20" stroke-width="0.15">erythrocyte development</text>
<text x="466.30" y="50.58" font-size="5.2" textLength="19.20" lengthAdjust="spacingAndGlyphs" stroke="#231f20" stroke-width="0.15">2.69E-07</text>
<text x="313.70" y="57.90" font-size="5.2" textLength="27.40" lengthAdjust="spacingAndGlyphs" stroke="#231f20" stroke-width="0.15">GO:0006898</text>
<text x="356.20" y="57.90" font-size="5.2" stroke="#231f20" stroke-width="0.15">receptor-mediated endocytosis</text>
<text x="466.30" y="57.90" font-size="5.2" textLength="19.20" lengthAdjust="spacingAndGlyphs" stroke="#231f20" stroke-width="0.15">7.82E-07</text>
<text x="313.70" y="65.22" font-size="5.2" textLength="27.40" lengthAdjust="spacingAndGlyphs" stroke="#231f20" stroke-width="0.15">GO:0043277</text>
<text x="356.20" y="65.22" font-size="5.2" stroke="#231f20" stroke-width="0.15">apoptotic cell clearance</text>
<text x="466.30" y="65.22" font-size="5.2" textLength="19.20" lengthAdjust="spacingAndGlyphs" stroke="#231f20" stroke-width="0.15">1.02E-05</text>
<text x="313.70" y="72.54" font-size="5.2" textLength="27.40" lengthAdjust="spacingAndGlyphs" stroke="#231f20" stroke-width="0.15">GO:0006879</text>
<text x="356.20" y="72.54" font-size="5.2" stroke="#231f20" stroke-width="0.15">cellular iron ion homeostasis</text>
<text x="466.30" y="72.54" font-size="5.2" textLength="19.20" lengthAdjust="spacingAndGlyphs" stroke="#231f20" stroke-width="0.15">1.06E-05</text>
<text x="313.70" y="79.86" font-size="5.2" textLength="27.40" lengthAdjust="spacingAndGlyphs" stroke="#231f20" stroke-width="0.15">GO:0050715</text>
<text x="356.20" y="79.86" font-size="5.2" stroke="#231f20" stroke-width="0.15">positive regulation of cytokine secretion</text>
<text x="466.30" y="79.86" font-size="5.2" textLength="19.20" lengthAdjust="spacingAndGlyphs" stroke="#231f20" stroke-width="0.15">2.17E-05</text>
<text x="313.70" y="87.18" font-size="5.2" textLength="27.40" lengthAdjust="spacingAndGlyphs" stroke="#231f20" stroke-width="0.15">GO:0006633</text>
<text x="356.20" y="87.18" font-size="5.2" stroke="#231f20" stroke-width="0.15">fatty acid biosynthetic process</text>
<text x="466.30" y="87.18" font-size="5.2" textLength="19.20" lengthAdjust="spacingAndGlyphs" stroke="#231f20" stroke-width="0.15">3.85E-05</text>
<text x="313.70" y="94.50" font-size="5.2" textLength="27.40" lengthAdjust="spacingAndGlyphs" stroke="#231f20" stroke-width="0.15">GO:0006826</text>
<text x="356.20" y="94.50" font-size="5.2" stroke="#231f20" stroke-width="0.15">iron ion transport</text>
<text x="466.30" y="94.50" font-size="5.2" textLength="19.20" lengthAdjust="spacingAndGlyphs" stroke="#231f20" stroke-width="0.15">4.66E-05</text>
<text x="313.70" y="101.82" font-size="5.2" textLength="27.40" lengthAdjust="spacingAndGlyphs" stroke="#231f20" stroke-width="0.15">GO:0006631</text>
<text x="356.20" y="101.82" font-size="5.2" stroke="#231f20" stroke-width="0.15">fatty acid metabolic process</text>
<text x="466.30" y="101.82" font-size="5.2" textLength="19.20" lengthAdjust="spacingAndGlyphs" stroke="#231f20" stroke-width="0.15">8.08E-05</text>
<text x="313.70" y="109.14" font-size="5.2" textLength="27.40" lengthAdjust="spacingAndGlyphs" stroke="#231f20" stroke-width="0.15">GO:0006810</text>
<text x="356.20" y="109.14" font-size="5.2" stroke="#231f20" stroke-width="0.15">transport</text>
<text x="466.30" y="109.14" font-size="5.2" textLength="19.20" lengthAdjust="spacingAndGlyphs" stroke="#231f20" stroke-width="0.15">8.67E-05</text>
<text x="313.70" y="116.46" font-size="5.2" textLength="27.40" lengthAdjust="spacingAndGlyphs" stroke="#231f20" stroke-width="0.15">GO:0055114</text>
<text x="356.20" y="116.46" font-size="5.2" stroke="#231f20" stroke-width="0.15">oxidation-reduction process</text>
<text x="466.30" y="116.46" font-size="5.2" textLength="19.20" lengthAdjust="spacingAndGlyphs" stroke="#231f20" stroke-width="0.15">1.11E-04</text>
<text x="39.80" y="172.90" font-size="5.2" textLength="144.70" lengthAdjust="spacingAndGlyphs" stroke="#231f20" stroke-width="0.15">Top10 upregulated pathways in F4/80<tspan dy="-1.87" font-size="3.12">+</tspan><tspan dy="1.87">Epor-eGFP</tspan><tspan dy="-1.87" font-size="3.12">+</tspan><tspan dy="1.87"> macrophages</tspan></text>
<rect x="27.8" y="175.9" width="167.30" height="6.1" fill="#ebcabf"/>
<rect x="27.8" y="182.00" width="167.30" height="7.41" fill="#d9d5d9"/>
<rect x="27.8" y="189.41" width="167.30" height="7.41" fill="#ebe8eb"/>
<rect x="27.8" y="196.82" width="167.30" height="7.41" fill="#d9d5d9"/>
<rect x="27.8" y="204.23" width="167.30" height="7.41" fill="#ebe8eb"/>
<rect x="27.8" y="211.64" width="167.30" height="7.41" fill="#d9d5d9"/>
<rect x="27.8" y="219.05" width="167.30" height="7.41" fill="#ebe8eb"/>
<rect x="27.8" y="226.46" width="167.30" height="7.41" fill="#d9d5d9"/>
<rect x="27.8" y="233.87" width="167.30" height="7.41" fill="#ebe8eb"/>
<rect x="27.8" y="241.28" width="167.30" height="7.41" fill="#d9d5d9"/>
<rect x="27.8" y="248.69" width="167.30" height="7.41" fill="#ebe8eb"/>
<rect x="65.65" y="175.9" width="0.7" height="80.20" fill="#f6f4f5" opacity="0.9"/>
<rect x="166.65" y="175.9" width="0.7" height="80.20" fill="#f6f4f5" opacity="0.9"/>
<text x="30.50" y="181.22" font-size="5.2" fill="#3a2a26" stroke="#3a2a26" stroke-width="0.15">Category</text>
<text x="69.00" y="181.22" font-size="5.2" fill="#3a2a26" stroke="#3a2a26" stroke-width="0.15">Term</text>
<text x="170.60" y="181.22" font-size="5.2" fill="#3a2a26" stroke="#3a2a26" stroke-width="0.15">PValue</text>
<text x="30.50" y="187.97" font-size="5.2" textLength="28.30" lengthAdjust="spacingAndGlyphs" stroke="#231f20" stroke-width="0.15">GO:0002376</text>
<text x="69.10" y="187.97" font-size="5.2" stroke="#231f20" stroke-width="0.15">immune system process</text>
<text x="170.60" y="187.97" font-size="5.2" textLength="19.00" lengthAdjust="spacingAndGlyphs" stroke="#231f20" stroke-width="0.15">1.07E-14</text>
<text x="30.50" y="195.38" font-size="5.2" textLength="28.30" lengthAdjust="spacingAndGlyphs" stroke="#231f20" stroke-width="0.15">GO:0006954</text>
<text x="68.50" y="195.38" font-size="5.2" stroke="#231f20" stroke-width="0.15">inflammatory response</text>
<text x="170.60" y="195.38" font-size="5.2" textLength="19.00" lengthAdjust="spacingAndGlyphs" stroke="#231f20" stroke-width="0.15">5.20E-11</text>
<text x="30.50" y="202.79" font-size="5.2" textLength="28.30" lengthAdjust="spacingAndGlyphs" stroke="#231f20" stroke-width="0.15">GO:0007229</text>
<text x="69.80" y="202.79" font-size="5.2" stroke="#231f20" stroke-width="0.15">integrin-mediated signaling pathway</text>
<text x="170.60" y="202.79" font-size="5.2" textLength="19.00" lengthAdjust="spacingAndGlyphs" stroke="#231f20" stroke-width="0.15">7.45E-08</text>
<text x="30.50" y="210.20" font-size="5.2" textLength="28.30" lengthAdjust="spacingAndGlyphs" stroke="#231f20" stroke-width="0.15">GO:0007155</text>
<text x="68.30" y="210.20" font-size="5.2" stroke="#231f20" stroke-width="0.15">cell adhesion</text>
<text x="170.60" y="210.20" font-size="5.2" textLength="19.00" lengthAdjust="spacingAndGlyphs" stroke="#231f20" stroke-width="0.15">4.89E-07</text>
<text x="30.50" y="217.61" font-size="5.2" textLength="28.30" lengthAdjust="spacingAndGlyphs" stroke="#231f20" stroke-width="0.15">GO:1901653</text>
<text x="69.80" y="217.61" font-size="5.2" stroke="#231f20" stroke-width="0.15">cellular response to peptide</text>
<text x="170.60" y="217.61" font-size="5.2" textLength="19.00" lengthAdjust="spacingAndGlyphs" stroke="#231f20" stroke-width="0.15">6.93E-06</text>
<text x="30.50" y="225.02" font-size="5.2" textLength="28.30" lengthAdjust="spacingAndGlyphs" stroke="#231f20" stroke-width="0.15">GO:0045087</text>
<text x="68.50" y="225.02" font-size="5.2" stroke="#231f20" stroke-width="0.15">innate immune response</text>
<text x="170.60" y="225.02" font-size="5.2" textLength="19.00" lengthAdjust="spacingAndGlyphs" stroke="#231f20" stroke-width="0.15">1.43E-05</text>
<text x="30.50" y="232.43" font-size="5.2" textLength="28.30" lengthAdjust="spacingAndGlyphs" stroke="#231f20" stroke-width="0.15">GO:0032496</text>
<text x="69.80" y="232.43" font-size="5.2" stroke="#231f20" stroke-width="0.15">response to lipopolysaccharide</text>
<text x="170.60" y="232.43" font-size="5.2" textLength="19.00" lengthAdjust="spacingAndGlyphs" stroke="#231f20" stroke-width="0.15">1.94E-05</text>
<text x="30.50" y="239.84" font-size="5.2" textLength="28.30" lengthAdjust="spacingAndGlyphs" stroke="#231f20" stroke-width="0.15">GO:0042113</text>
<text x="68.00" y="239.84" font-size="5.2" stroke="#231f20" stroke-width="0.15">B cell activation</text>
<text x="170.60" y="239.84" font-size="5.2" textLength="21.38" lengthAdjust="spacingAndGlyphs" stroke="#231f20" stroke-width="0.15">0.0000265</text>
<text x="30.50" y="247.25" font-size="5.2" textLength="28.30" lengthAdjust="spacingAndGlyphs" stroke="#231f20" stroke-width="0.15">GO:0034113</text>
<text x="69.80" y="247.25" font-size="5.2" stroke="#231f20" stroke-width="0.15">heterotypic cell-cell adhesion</text>
<text x="170.60" y="247.25" font-size="5.2" textLength="19.00" lengthAdjust="spacingAndGlyphs" stroke="#231f20" stroke-width="0.15">3.69E-05</text>
<text x="30.50" y="254.66" font-size="5.2" textLength="28.30" lengthAdjust="spacingAndGlyphs" stroke="#231f20" stroke-width="0.15">GO:0007160</text>
<text x="68.50" y="254.66" font-size="5.2" stroke="#231f20" stroke-width="0.15">cell-matrix adhesion</text>
<text x="170.60" y="254.66" font-size="5.2" textLength="19.00" lengthAdjust="spacingAndGlyphs" stroke="#231f20" stroke-width="0.15">3.77E-05</text>
<line x1="304.80" y1="161.30" x2="497.70" y2="161.30" stroke="#4a4a4a" stroke-width="1.0"/>
<text x="364.60" y="156.60" font-size="8.7" textLength="73.10" lengthAdjust="spacingAndGlyphs" stroke="#231f20" stroke-width="0.15">Adhesion molecules</text>
<rect x="296.30" y="229.40" width="7.60" height="1.70" fill="#34497a" stroke="#1f2d50" stroke-width="0.6"/>
<rect x="307.10" y="201.10" width="7.70" height="30.00" fill="#a43444" stroke="#9b2033" stroke-width="0.5"/>
<line x1="300.10" y1="229.40" x2="300.10" y2="229.00" stroke="#555" stroke-width="0.9"/>
<line x1="298.30" y1="229.00" x2="301.90" y2="229.00" stroke="#333" stroke-width="0.9"/>
<line x1="310.95" y1="201.10" x2="310.95" y2="189.30" stroke="#555" stroke-width="0.9"/>
<line x1="309.15" y1="189.30" x2="312.75" y2="189.30" stroke="#333" stroke-width="0.9"/>
<line x1="292.60" y1="175.00" x2="292.60" y2="231.60" stroke="#231f20" stroke-width="1.1"/>
<line x1="292.10" y1="231.10" x2="318.40" y2="231.10" stroke="#231f20" stroke-width="1.1"/>
<line x1="289.50" y1="231.10" x2="292.60" y2="231.10" stroke="#231f20" stroke-width="0.9"/>
<text x="286.40" y="233.37" font-size="6.3" text-anchor="end" textLength="3.40" lengthAdjust="spacingAndGlyphs" fill="#2a2a2a" stroke="#2a2a2a" stroke-width="0.15">0</text>
<line x1="289.50" y1="220.46" x2="292.60" y2="220.46" stroke="#231f20" stroke-width="0.9"/>
<text x="286.40" y="222.73" font-size="6.3" text-anchor="end" textLength="10.20" lengthAdjust="spacingAndGlyphs" fill="#2a2a2a" stroke="#2a2a2a" stroke-width="0.15">200</text>
<line x1="289.50" y1="209.82" x2="292.60" y2="209.82" stroke="#231f20" stroke-width="0.9"/>
<text x="286.40" y="212.09" font-size="6.3" text-anchor="end" textLength="10.20" lengthAdjust="spacingAndGlyphs" fill="#2a2a2a" stroke="#2a2a2a" stroke-width="0.15">400</text>
<line x1="289.50" y1="199.18" x2="292.60" y2="199.18" stroke="#231f20" stroke-width="0.9"/>
<text x="286.40" y="201.45" font-size="6.3" text-anchor="end" textLength="10.20" lengthAdjust="spacingAndGlyphs" fill="#2a2a2a" stroke="#2a2a2a" stroke-width="0.15">600</text>
<line x1="289.50" y1="188.54" x2="292.60" y2="188.54" stroke="#231f20" stroke-width="0.9"/>
<text x="286.40" y="190.81" font-size="6.3" text-anchor="end" textLength="10.20" lengthAdjust="spacingAndGlyphs" fill="#2a2a2a" stroke="#2a2a2a" stroke-width="0.15">800</text>
<line x1="289.50" y1="177.90" x2="292.60" y2="177.90" stroke="#231f20" stroke-width="0.9"/>
<text x="286.40" y="180.17" font-size="6.3" text-anchor="end" textLength="13.60" lengthAdjust="spacingAndGlyphs" fill="#2a2a2a" stroke="#2a2a2a" stroke-width="0.15">1000</text>
<text x="305.55" y="169.80" font-size="6.1" text-anchor="middle" textLength="17.60" lengthAdjust="spacingAndGlyphs" stroke="#231f20" stroke-width="0.15">Vcam1</text>
<text x="267.00" y="202.80" font-size="9.2" text-anchor="middle" textLength="20.50" lengthAdjust="spacingAndGlyphs" stroke="#231f20" stroke-width="0.15" transform="rotate(-90 267.00 202.80)">FPKM</text>
<rect x="361.20" y="226.90" width="7.60" height="4.20" fill="#4a6389" stroke="#3b5688" stroke-width="0.5"/>
<rect x="372.40" y="194.80" width="7.80" height="36.30" fill="#a43444" stroke="#9b2033" stroke-width="0.5"/>
<line x1="365.00" y1="226.90" x2="365.00" y2="226.40" stroke="#555" stroke-width="0.9"/>
<line x1="363.20" y1="226.40" x2="366.80" y2="226.40" stroke="#333" stroke-width="0.9"/>
<line x1="376.30" y1="194.80" x2="376.30" y2="181.30" stroke="#555" stroke-width="0.9"/>
<line x1="374.50" y1="181.30" x2="378.10" y2="181.30" stroke="#333" stroke-width="0.9"/>
<line x1="357.70" y1="175.00" x2="357.70" y2="231.60" stroke="#231f20" stroke-width="1.1"/>
<line x1="357.20" y1="231.10" x2="384.00" y2="231.10" stroke="#231f20" stroke-width="1.1"/>
<line x1="354.60" y1="231.10" x2="357.70" y2="231.10" stroke="#231f20" stroke-width="0.9"/>
<text x="351.50" y="233.37" font-size="6.3" text-anchor="end" textLength="3.40" lengthAdjust="spacingAndGlyphs" fill="#2a2a2a" stroke="#2a2a2a" stroke-width="0.15">0</text>
<line x1="354.60" y1="220.46" x2="357.70" y2="220.46" stroke="#231f20" stroke-width="0.9"/>
<text x="351.50" y="222.73" font-size="6.3" text-anchor="end" textLength="6.80" lengthAdjust="spacingAndGlyphs" fill="#2a2a2a" stroke="#2a2a2a" stroke-width="0.15">20</text>
<line x1="354.60" y1="209.82" x2="357.70" y2="209.82" stroke="#231f20" stroke-width="0.9"/>
<text x="351.50" y="212.09" font-size="6.3" text-anchor="end" textLength="6.80" lengthAdjust="spacingAndGlyphs" fill="#2a2a2a" stroke="#2a2a2a" stroke-width="0.15">40</text>
<line x1="354.60" y1="199.18" x2="357.70" y2="199.18" stroke="#231f20" stroke-width="0.9"/>
<text x="351.50" y="201.45" font-size="6.3" text-anchor="end" textLength="6.80" lengthAdjust="spacingAndGlyphs" fill="#2a2a2a" stroke="#2a2a2a" stroke-width="0.15">60</text>
<line x1="354.60" y1="188.54" x2="357.70" y2="188.54" stroke="#231f20" stroke-width="0.9"/>
<text x="351.50" y="190.81" font-size="6.3" text-anchor="end" textLength="6.80" lengthAdjust="spacingAndGlyphs" fill="#2a2a2a" stroke="#2a2a2a" stroke-width="0.15">80</text>
<line x1="354.60" y1="177.90" x2="357.70" y2="177.90" stroke="#231f20" stroke-width="0.9"/>
<text x="351.50" y="180.17" font-size="6.3" text-anchor="end" textLength="10.20" lengthAdjust="spacingAndGlyphs" fill="#2a2a2a" stroke="#2a2a2a" stroke-width="0.15">100</text>
<text x="370.70" y="169.80" font-size="6.1" text-anchor="middle" textLength="18.20" lengthAdjust="spacingAndGlyphs" stroke="#231f20" stroke-width="0.15">CD169</text>
<text x="335.20" y="202.80" font-size="9.2" text-anchor="middle" textLength="20.50" lengthAdjust="spacingAndGlyphs" stroke="#231f20" stroke-width="0.15" transform="rotate(-90 335.20 202.80)">FPKM</text>
<rect x="427.40" y="229.70" width="6.00" height="1.4" rx="0.6" fill="#1f2c4a"/>
<rect x="437.70" y="199.20" width="7.50" height="31.90" fill="#a43444" stroke="#9b2033" stroke-width="0.5"/>
<line x1="441.45" y1="199.20" x2="441.45" y2="186.50" stroke="#555" stroke-width="0.9"/>
<line x1="439.65" y1="186.50" x2="443.25" y2="186.50" stroke="#333" stroke-width="0.9"/>
<line x1="423.00" y1="175.00" x2="423.00" y2="231.60" stroke="#231f20" stroke-width="1.1"/>
<line x1="422.50" y1="231.10" x2="449.00" y2="231.10" stroke="#231f20" stroke-width="1.1"/>
<line x1="419.90" y1="231.10" x2="423.00" y2="231.10" stroke="#231f20" stroke-width="0.9"/>
<text x="416.80" y="233.37" font-size="6.3" text-anchor="end" textLength="3.40" lengthAdjust="spacingAndGlyphs" fill="#2a2a2a" stroke="#2a2a2a" stroke-width="0.15">0</text>
<line x1="419.90" y1="220.46" x2="423.00" y2="220.46" stroke="#231f20" stroke-width="0.9"/>
<text x="416.80" y="222.73" font-size="6.3" text-anchor="end" textLength="6.80" lengthAdjust="spacingAndGlyphs" fill="#2a2a2a" stroke="#2a2a2a" stroke-width="0.15">50</text>
<line x1="419.90" y1="209.82" x2="423.00" y2="209.82" stroke="#231f20" stroke-width="0.9"/>
<text x="416.80" y="212.09" font-size="6.3" text-anchor="end" textLength="10.20" lengthAdjust="spacingAndGlyphs" fill="#2a2a2a" stroke="#2a2a2a" stroke-width="0.15">100</text>
<line x1="419.90" y1="199.18" x2="423.00" y2="199.18" stroke="#231f20" stroke-width="0.9"/>
<text x="416.80" y="201.45" font-size="6.3" text-anchor="end" textLength="10.20" lengthAdjust="spacingAndGlyphs" fill="#2a2a2a" stroke="#2a2a2a" stroke-width="0.15">150</text>
<line x1="419.90" y1="188.54" x2="423.00" y2="188.54" stroke="#231f20" stroke-width="0.9"/>
<text x="416.80" y="190.81" font-size="6.3" text-anchor="end" textLength="10.20" lengthAdjust="spacingAndGlyphs" fill="#2a2a2a" stroke="#2a2a2a" stroke-width="0.15">200</text>
<line x1="419.90" y1="177.90" x2="423.00" y2="177.90" stroke="#231f20" stroke-width="0.9"/>
<text x="416.80" y="180.17" font-size="6.3" text-anchor="end" textLength="10.20" lengthAdjust="spacingAndGlyphs" fill="#2a2a2a" stroke="#2a2a2a" stroke-width="0.15">250</text>
<text x="435.90" y="169.80" font-size="6.1" text-anchor="middle" textLength="18.00" lengthAdjust="spacingAndGlyphs" stroke="#231f20" stroke-width="0.15">CD163</text>
<text x="400.20" y="202.80" font-size="9.2" text-anchor="middle" textLength="20.50" lengthAdjust="spacingAndGlyphs" stroke="#231f20" stroke-width="0.15" transform="rotate(-90 400.20 202.80)">FPKM</text>
<rect x="488.20" y="189.30" width="7.50" height="41.80" fill="#4a6389" stroke="#3b5688" stroke-width="0.5"/>
<rect x="499.20" y="197.20" width="7.70" height="33.90" fill="#a43444" stroke="#9b2033" stroke-width="0.5"/>
<line x1="491.95" y1="189.30" x2="491.95" y2="189.00" stroke="#555" stroke-width="0.9"/>
<line x1="490.15" y1="189.00" x2="493.75" y2="189.00" stroke="#333" stroke-width="0.9"/>
<line x1="503.05" y1="197.20" x2="503.05" y2="196.60" stroke="#555" stroke-width="0.9"/>
<line x1="501.25" y1="196.60" x2="504.85" y2="196.60" stroke="#333" stroke-width="0.9"/>
<line x1="483.50" y1="175.00" x2="483.50" y2="231.60" stroke="#231f20" stroke-width="1.1"/>
<line x1="483.00" y1="231.10" x2="510.70" y2="231.10" stroke="#231f20" stroke-width="1.1"/>
<line x1="480.40" y1="231.10" x2="483.50" y2="231.10" stroke="#231f20" stroke-width="0.9"/>
<text x="477.30" y="233.37" font-size="6.3" text-anchor="end" textLength="3.40" lengthAdjust="spacingAndGlyphs" fill="#2a2a2a" stroke="#2a2a2a" stroke-width="0.15">0</text>
<line x1="480.40" y1="217.80" x2="483.50" y2="217.80" stroke="#231f20" stroke-width="0.9"/>
<text x="477.30" y="220.07" font-size="6.3" text-anchor="end" textLength="6.80" lengthAdjust="spacingAndGlyphs" fill="#2a2a2a" stroke="#2a2a2a" stroke-width="0.15">20</text>
<line x1="480.40" y1="204.50" x2="483.50" y2="204.50" stroke="#231f20" stroke-width="0.9"/>
<text x="477.30" y="206.77" font-size="6.3" text-anchor="end" textLength="6.80" lengthAdjust="spacingAndGlyphs" fill="#2a2a2a" stroke="#2a2a2a" stroke-width="0.15">40</text>
<line x1="480.40" y1="191.20" x2="483.50" y2="191.20" stroke="#231f20" stroke-width="0.9"/>
<text x="477.30" y="193.47" font-size="6.3" text-anchor="end" textLength="6.80" lengthAdjust="spacingAndGlyphs" fill="#2a2a2a" stroke="#2a2a2a" stroke-width="0.15">60</text>
<line x1="480.40" y1="177.90" x2="483.50" y2="177.90" stroke="#231f20" stroke-width="0.9"/>
<text x="477.30" y="180.17" font-size="6.3" text-anchor="end" textLength="6.80" lengthAdjust="spacingAndGlyphs" fill="#2a2a2a" stroke="#2a2a2a" stroke-width="0.15">80</text>
<text x="497.55" y="169.80" font-size="6.1" text-anchor="middle" textLength="14.20" lengthAdjust="spacingAndGlyphs" stroke="#231f20" stroke-width="0.15" font-style="italic">Maea</text>
<text x="465.20" y="202.80" font-size="9.2" text-anchor="middle" textLength="20.50" lengthAdjust="spacingAndGlyphs" stroke="#231f20" stroke-width="0.15" transform="rotate(-90 465.20 202.80)">FPKM</text>
<rect x="330.20" y="237.80" width="9.4" height="4.5" fill="#4a6389" stroke="#3b5688" stroke-width="0.4"/>
<rect x="405.00" y="237.80" width="9.4" height="4.5" fill="#a43444" stroke="#9b2033" stroke-width="0.4"/>
<text x="342.90" y="242.20" font-size="6.0" textLength="48.60" lengthAdjust="spacingAndGlyphs" fill="#231f20" stroke="#231f20" stroke-width="0.15">F4/80<tspan dy="-2.16" font-size="3.60">+</tspan><tspan dy="2.16">Epor-eGFP</tspan><tspan dy="-2.16" font-size="3.60">-</tspan><tspan dy="2.16"></tspan></text>
<text x="417.50" y="242.20" font-size="6.0" textLength="49.00" lengthAdjust="spacingAndGlyphs" fill="#231f20" stroke="#231f20" stroke-width="0.15">F4/80<tspan dy="-2.16" font-size="3.60">+</tspan><tspan dy="2.16">Epor-eGFP</tspan><tspan dy="-2.16" font-size="3.60">+</tspan><tspan dy="2.16"></tspan></text>
<line x1="45.80" y1="287.90" x2="167.70" y2="287.90" stroke="#4a4a4a" stroke-width="1.0"/>
<text x="70.00" y="283.00" font-size="8.7" textLength="72.70" lengthAdjust="spacingAndGlyphs" stroke="#231f20" stroke-width="0.15">Nucleus engulfment</text>
<rect x="36.90" y="357.20" width="5.60" height="1.4" rx="0.6" fill="#1f2c4a"/>
<rect x="47.00" y="321.90" width="7.90" height="36.70" fill="#a43444" stroke="#9b2033" stroke-width="0.5"/>
<line x1="50.95" y1="321.90" x2="50.95" y2="309.40" stroke="#555" stroke-width="0.9"/>
<line x1="49.15" y1="309.40" x2="52.75" y2="309.40" stroke="#333" stroke-width="0.9"/>
<line x1="32.90" y1="303.00" x2="32.90" y2="359.10" stroke="#231f20" stroke-width="1.1"/>
<line x1="32.40" y1="358.60" x2="58.60" y2="358.60" stroke="#231f20" stroke-width="1.1"/>
<line x1="29.80" y1="358.60" x2="32.90" y2="358.60" stroke="#231f20" stroke-width="0.9"/>
<text x="26.70" y="360.87" font-size="6.3" text-anchor="end" textLength="3.40" lengthAdjust="spacingAndGlyphs" fill="#2a2a2a" stroke="#2a2a2a" stroke-width="0.15">0</text>
<line x1="29.80" y1="347.98" x2="32.90" y2="347.98" stroke="#231f20" stroke-width="0.9"/>
<text x="26.70" y="350.25" font-size="6.3" text-anchor="end" textLength="6.80" lengthAdjust="spacingAndGlyphs" fill="#2a2a2a" stroke="#2a2a2a" stroke-width="0.15">10</text>
<line x1="29.80" y1="337.36" x2="32.90" y2="337.36" stroke="#231f20" stroke-width="0.9"/>
<text x="26.70" y="339.63" font-size="6.3" text-anchor="end" textLength="6.80" lengthAdjust="spacingAndGlyphs" fill="#2a2a2a" stroke="#2a2a2a" stroke-width="0.15">20</text>
<line x1="29.80" y1="326.74" x2="32.90" y2="326.74" stroke="#231f20" stroke-width="0.9"/>
<text x="26.70" y="329.01" font-size="6.3" text-anchor="end" textLength="6.80" lengthAdjust="spacingAndGlyphs" fill="#2a2a2a" stroke="#2a2a2a" stroke-width="0.15">30</text>
<line x1="29.80" y1="316.12" x2="32.90" y2="316.12" stroke="#231f20" stroke-width="0.9"/>
<text x="26.70" y="318.39" font-size="6.3" text-anchor="end" textLength="6.80" lengthAdjust="spacingAndGlyphs" fill="#2a2a2a" stroke="#2a2a2a" stroke-width="0.15">40</text>
<line x1="29.80" y1="305.50" x2="32.90" y2="305.50" stroke="#231f20" stroke-width="0.9"/>
<text x="26.70" y="307.77" font-size="6.3" text-anchor="end" textLength="6.80" lengthAdjust="spacingAndGlyphs" fill="#2a2a2a" stroke="#2a2a2a" stroke-width="0.15">50</text>
<text x="45.50" y="296.80" font-size="6.1" text-anchor="middle" textLength="15.60" lengthAdjust="spacingAndGlyphs" stroke="#231f20" stroke-width="0.15">Mertk</text>
<text x="15.30" y="330.35" font-size="9.2" text-anchor="middle" textLength="20.50" lengthAdjust="spacingAndGlyphs" stroke="#231f20" stroke-width="0.15" transform="rotate(-90 15.30 330.35)">FPKM</text>
<rect x="98.00" y="357.20" width="5.80" height="1.4" rx="0.6" fill="#1f2c4a"/>
<rect x="108.20" y="328.80" width="7.70" height="29.80" fill="#a43444" stroke="#9b2033" stroke-width="0.5"/>
<line x1="112.05" y1="328.80" x2="112.05" y2="315.20" stroke="#555" stroke-width="0.9"/>
<line x1="110.25" y1="315.20" x2="113.85" y2="315.20" stroke="#333" stroke-width="0.9"/>
<line x1="93.70" y1="303.00" x2="93.70" y2="359.10" stroke="#231f20" stroke-width="1.1"/>
<line x1="93.20" y1="358.60" x2="119.70" y2="358.60" stroke="#231f20" stroke-width="1.1"/>
<line x1="90.60" y1="358.60" x2="93.70" y2="358.60" stroke="#231f20" stroke-width="0.9"/>
<text x="87.50" y="360.87" font-size="6.3" text-anchor="end" textLength="3.40" lengthAdjust="spacingAndGlyphs" fill="#2a2a2a" stroke="#2a2a2a" stroke-width="0.15">0</text>
<line x1="90.60" y1="340.90" x2="93.70" y2="340.90" stroke="#231f20" stroke-width="0.9"/>
<text x="87.50" y="343.17" font-size="6.3" text-anchor="end" textLength="6.80" lengthAdjust="spacingAndGlyphs" fill="#2a2a2a" stroke="#2a2a2a" stroke-width="0.15">20</text>
<line x1="90.60" y1="323.20" x2="93.70" y2="323.20" stroke="#231f20" stroke-width="0.9"/>
<text x="87.50" y="325.47" font-size="6.3" text-anchor="end" textLength="6.80" lengthAdjust="spacingAndGlyphs" fill="#2a2a2a" stroke="#2a2a2a" stroke-width="0.15">40</text>
<line x1="90.60" y1="305.50" x2="93.70" y2="305.50" stroke="#231f20" stroke-width="0.9"/>
<text x="87.50" y="307.77" font-size="6.3" text-anchor="end" textLength="6.80" lengthAdjust="spacingAndGlyphs" fill="#2a2a2a" stroke="#2a2a2a" stroke-width="0.15">60</text>
<text x="106.55" y="296.80" font-size="6.1" text-anchor="middle" textLength="12.90" lengthAdjust="spacingAndGlyphs" stroke="#231f20" stroke-width="0.15">Tim4</text>
<text x="75.30" y="330.35" font-size="9.2" text-anchor="middle" textLength="20.50" lengthAdjust="spacingAndGlyphs" stroke="#231f20" stroke-width="0.15" transform="rotate(-90 75.30 330.35)">FPKM</text>
<rect x="158.20" y="341.00" width="7.60" height="17.60" fill="#4a6389" stroke="#3b5688" stroke-width="0.5"/>
<rect x="169.30" y="318.30" width="7.60" height="40.30" fill="#a43444" stroke="#9b2033" stroke-width="0.5"/>
<line x1="162.00" y1="341.00" x2="162.00" y2="340.50" stroke="#555" stroke-width="0.9"/>
<line x1="160.20" y1="340.50" x2="163.80" y2="340.50" stroke="#333" stroke-width="0.9"/>
<line x1="173.10" y1="318.30" x2="173.10" y2="309.70" stroke="#555" stroke-width="0.9"/>
<line x1="171.30" y1="309.70" x2="174.90" y2="309.70" stroke="#333" stroke-width="0.9"/>
<line x1="154.40" y1="303.00" x2="154.40" y2="359.10" stroke="#231f20" stroke-width="1.1"/>
<line x1="153.90" y1="358.60" x2="181.10" y2="358.60" stroke="#231f20" stroke-width="1.1"/>
<line x1="151.30" y1="358.60" x2="154.40" y2="358.60" stroke="#231f20" stroke-width="0.9"/>
<text x="148.20" y="360.87" font-size="6.3" text-anchor="end" textLength="3.40" lengthAdjust="spacingAndGlyphs" fill="#2a2a2a" stroke="#2a2a2a" stroke-width="0.15">0</text>
<line x1="151.30" y1="345.33" x2="154.40" y2="345.33" stroke="#231f20" stroke-width="0.9"/>
<text x="148.20" y="347.59" font-size="6.3" text-anchor="end" textLength="6.80" lengthAdjust="spacingAndGlyphs" fill="#2a2a2a" stroke="#2a2a2a" stroke-width="0.15">20</text>
<line x1="151.30" y1="332.05" x2="154.40" y2="332.05" stroke="#231f20" stroke-width="0.9"/>
<text x="148.20" y="334.32" font-size="6.3" text-anchor="end" textLength="6.80" lengthAdjust="spacingAndGlyphs" fill="#2a2a2a" stroke="#2a2a2a" stroke-width="0.15">40</text>
<line x1="151.30" y1="318.77" x2="154.40" y2="318.77" stroke="#231f20" stroke-width="0.9"/>
<text x="148.20" y="321.04" font-size="6.3" text-anchor="end" textLength="6.80" lengthAdjust="spacingAndGlyphs" fill="#2a2a2a" stroke="#2a2a2a" stroke-width="0.15">60</text>
<line x1="151.30" y1="305.50" x2="154.40" y2="305.50" stroke="#231f20" stroke-width="0.9"/>
<text x="148.20" y="307.77" font-size="6.3" text-anchor="end" textLength="6.80" lengthAdjust="spacingAndGlyphs" fill="#2a2a2a" stroke="#2a2a2a" stroke-width="0.15">80</text>
<text x="166.85" y="296.80" font-size="6.1" text-anchor="middle" textLength="21.00" lengthAdjust="spacingAndGlyphs" stroke="#231f20" stroke-width="0.15">Dnase2a</text>
<text x="137.20" y="330.35" font-size="9.2" text-anchor="middle" textLength="20.50" lengthAdjust="spacingAndGlyphs" stroke="#231f20" stroke-width="0.15" transform="rotate(-90 137.20 330.35)">FPKM</text>
<rect x="35.70" y="365.60" width="9.4" height="4.5" fill="#4a6389" stroke="#3b5688" stroke-width="0.4"/>
<rect x="110.60" y="365.60" width="9.4" height="4.5" fill="#a43444" stroke="#9b2033" stroke-width="0.4"/>
<text x="47.70" y="370.00" font-size="6.0" textLength="48.50" lengthAdjust="spacingAndGlyphs" fill="#231f20" stroke="#231f20" stroke-width="0.15">F4/80<tspan dy="-2.16" font-size="3.60">+</tspan><tspan dy="2.16">Epor-eGFP</tspan><tspan dy="-2.16" font-size="3.60">-</tspan><tspan dy="2.16"></tspan></text>
<text x="123.10" y="370.00" font-size="6.0" textLength="50.90" lengthAdjust="spacingAndGlyphs" fill="#231f20" stroke="#231f20" stroke-width="0.15">F4/80<tspan dy="-2.16" font-size="3.60">+</tspan><tspan dy="2.16">Epor-eGFP</tspan><tspan dy="-2.16" font-size="3.60">+</tspan><tspan dy="2.16"></tspan></text>
<line x1="305.60" y1="287.80" x2="500.00" y2="287.80" stroke="#4a4a4a" stroke-width="1.0"/>
<text x="377.80" y="283.00" font-size="8.7" textLength="49.30" lengthAdjust="spacingAndGlyphs" stroke="#231f20" stroke-width="0.15">Iron handling</text>
<rect x="296.20" y="356.70" width="7.30" height="2.00" fill="#34497a" stroke="#1f2d50" stroke-width="0.6"/>
<rect x="307.80" y="329.80" width="7.20" height="28.90" fill="#a43444" stroke="#9b2033" stroke-width="0.5"/>
<line x1="299.85" y1="356.70" x2="299.85" y2="356.40" stroke="#555" stroke-width="0.9"/>
<line x1="298.05" y1="356.40" x2="301.65" y2="356.40" stroke="#333" stroke-width="0.9"/>
<line x1="311.40" y1="329.80" x2="311.40" y2="319.10" stroke="#555" stroke-width="0.9"/>
<line x1="309.60" y1="319.10" x2="313.20" y2="319.10" stroke="#333" stroke-width="0.9"/>
<line x1="292.60" y1="301.50" x2="292.60" y2="359.20" stroke="#231f20" stroke-width="1.1"/>
<line x1="292.10" y1="358.70" x2="319.20" y2="358.70" stroke="#231f20" stroke-width="1.1"/>
<line x1="289.50" y1="358.70" x2="292.60" y2="358.70" stroke="#231f20" stroke-width="0.9"/>
<text x="286.40" y="360.97" font-size="6.3" text-anchor="end" textLength="3.40" lengthAdjust="spacingAndGlyphs" fill="#2a2a2a" stroke="#2a2a2a" stroke-width="0.15">0</text>
<line x1="289.50" y1="345.07" x2="292.60" y2="345.07" stroke="#231f20" stroke-width="0.9"/>
<text x="286.40" y="347.34" font-size="6.3" text-anchor="end" textLength="10.20" lengthAdjust="spacingAndGlyphs" fill="#2a2a2a" stroke="#2a2a2a" stroke-width="0.15">500</text>
<line x1="289.50" y1="331.45" x2="292.60" y2="331.45" stroke="#231f20" stroke-width="0.9"/>
<text x="286.40" y="333.72" font-size="6.3" text-anchor="end" textLength="13.60" lengthAdjust="spacingAndGlyphs" fill="#2a2a2a" stroke="#2a2a2a" stroke-width="0.15">1000</text>
<line x1="289.50" y1="317.82" x2="292.60" y2="317.82" stroke="#231f20" stroke-width="0.9"/>
<text x="286.40" y="320.09" font-size="6.3" text-anchor="end" textLength="13.60" lengthAdjust="spacingAndGlyphs" fill="#2a2a2a" stroke="#2a2a2a" stroke-width="0.15">1500</text>
<line x1="289.50" y1="304.20" x2="292.60" y2="304.20" stroke="#231f20" stroke-width="0.9"/>
<text x="286.40" y="306.47" font-size="6.3" text-anchor="end" textLength="13.60" lengthAdjust="spacingAndGlyphs" fill="#2a2a2a" stroke="#2a2a2a" stroke-width="0.15">2000</text>
<text x="305.60" y="296.50" font-size="6.1" text-anchor="middle" textLength="19.00" lengthAdjust="spacingAndGlyphs" stroke="#231f20" stroke-width="0.15">Hmox1</text>
<text x="266.80" y="329.75" font-size="9.2" text-anchor="middle" textLength="20.50" lengthAdjust="spacingAndGlyphs" stroke="#231f20" stroke-width="0.15" transform="rotate(-90 266.80 329.75)">FPKM</text>
<rect x="362.10" y="356.40" width="7.30" height="2.30" fill="#34497a" stroke="#1f2d50" stroke-width="0.6"/>
<rect x="373.30" y="325.90" width="7.70" height="32.80" fill="#a43444" stroke="#9b2033" stroke-width="0.5"/>
<line x1="365.75" y1="356.40" x2="365.75" y2="356.00" stroke="#555" stroke-width="0.9"/>
<line x1="363.95" y1="356.00" x2="367.55" y2="356.00" stroke="#333" stroke-width="0.9"/>
<line x1="377.15" y1="325.90" x2="377.15" y2="313.60" stroke="#555" stroke-width="0.9"/>
<line x1="375.35" y1="313.60" x2="378.95" y2="313.60" stroke="#333" stroke-width="0.9"/>
<line x1="358.50" y1="301.50" x2="358.50" y2="359.20" stroke="#231f20" stroke-width="1.1"/>
<line x1="358.00" y1="358.70" x2="385.00" y2="358.70" stroke="#231f20" stroke-width="1.1"/>
<line x1="355.40" y1="358.70" x2="358.50" y2="358.70" stroke="#231f20" stroke-width="0.9"/>
<text x="352.30" y="360.97" font-size="6.3" text-anchor="end" textLength="3.40" lengthAdjust="spacingAndGlyphs" fill="#2a2a2a" stroke="#2a2a2a" stroke-width="0.15">0</text>
<line x1="355.40" y1="340.53" x2="358.50" y2="340.53" stroke="#231f20" stroke-width="0.9"/>
<text x="352.30" y="342.80" font-size="6.3" text-anchor="end" textLength="10.20" lengthAdjust="spacingAndGlyphs" fill="#2a2a2a" stroke="#2a2a2a" stroke-width="0.15">200</text>
<line x1="355.40" y1="322.37" x2="358.50" y2="322.37" stroke="#231f20" stroke-width="0.9"/>
<text x="352.30" y="324.63" font-size="6.3" text-anchor="end" textLength="10.20" lengthAdjust="spacingAndGlyphs" fill="#2a2a2a" stroke="#2a2a2a" stroke-width="0.15">400</text>
<line x1="355.40" y1="304.20" x2="358.50" y2="304.20" stroke="#231f20" stroke-width="0.9"/>
<text x="352.30" y="306.47" font-size="6.3" text-anchor="end" textLength="10.20" lengthAdjust="spacingAndGlyphs" fill="#2a2a2a" stroke="#2a2a2a" stroke-width="0.15">600</text>
<text x="371.55" y="299.20" font-size="6.1" text-anchor="middle" textLength="20.40" lengthAdjust="spacingAndGlyphs" stroke="#231f20" stroke-width="0.15">Slc40a1</text>
<text x="335.30" y="329.75" font-size="9.2" text-anchor="middle" textLength="20.50" lengthAdjust="spacingAndGlyphs" stroke="#231f20" stroke-width="0.15" transform="rotate(-90 335.30 329.75)">FPKM</text>
<rect x="423.90" y="347.00" width="7.70" height="11.70" fill="#4a6389" stroke="#3b5688" stroke-width="0.5"/>
<rect x="435.20" y="319.50" width="7.90" height="39.20" fill="#a43444" stroke="#9b2033" stroke-width="0.5"/>
<line x1="427.75" y1="347.00" x2="427.75" y2="345.70" stroke="#555" stroke-width="0.9"/>
<line x1="425.95" y1="345.70" x2="429.55" y2="345.70" stroke="#333" stroke-width="0.9"/>
<line x1="439.15" y1="319.50" x2="439.15" y2="316.60" stroke="#555" stroke-width="0.9"/>
<line x1="437.35" y1="316.60" x2="440.95" y2="316.60" stroke="#333" stroke-width="0.9"/>
<line x1="420.30" y1="301.50" x2="420.30" y2="359.20" stroke="#231f20" stroke-width="1.1"/>
<line x1="419.80" y1="358.70" x2="446.80" y2="358.70" stroke="#231f20" stroke-width="1.1"/>
<line x1="417.20" y1="358.70" x2="420.30" y2="358.70" stroke="#231f20" stroke-width="0.9"/>
<text x="414.10" y="360.97" font-size="6.3" text-anchor="end" textLength="3.40" lengthAdjust="spacingAndGlyphs" fill="#2a2a2a" stroke="#2a2a2a" stroke-width="0.15">0</text>
<line x1="417.20" y1="347.80" x2="420.30" y2="347.80" stroke="#231f20" stroke-width="0.9"/>
<text x="414.10" y="350.07" font-size="6.3" text-anchor="end" textLength="6.80" lengthAdjust="spacingAndGlyphs" fill="#2a2a2a" stroke="#2a2a2a" stroke-width="0.15">10</text>
<line x1="417.20" y1="336.90" x2="420.30" y2="336.90" stroke="#231f20" stroke-width="0.9"/>
<text x="414.10" y="339.17" font-size="6.3" text-anchor="end" textLength="6.80" lengthAdjust="spacingAndGlyphs" fill="#2a2a2a" stroke="#2a2a2a" stroke-width="0.15">20</text>
<line x1="417.20" y1="326.00" x2="420.30" y2="326.00" stroke="#231f20" stroke-width="0.9"/>
<text x="414.10" y="328.27" font-size="6.3" text-anchor="end" textLength="6.80" lengthAdjust="spacingAndGlyphs" fill="#2a2a2a" stroke="#2a2a2a" stroke-width="0.15">30</text>
<line x1="417.20" y1="315.10" x2="420.30" y2="315.10" stroke="#231f20" stroke-width="0.9"/>
<text x="414.10" y="317.37" font-size="6.3" text-anchor="end" textLength="6.80" lengthAdjust="spacingAndGlyphs" fill="#2a2a2a" stroke="#2a2a2a" stroke-width="0.15">40</text>
<line x1="417.20" y1="304.20" x2="420.30" y2="304.20" stroke="#231f20" stroke-width="0.9"/>
<text x="414.10" y="306.47" font-size="6.3" text-anchor="end" textLength="6.80" lengthAdjust="spacingAndGlyphs" fill="#2a2a2a" stroke="#2a2a2a" stroke-width="0.15">50</text>
<text x="433.50" y="299.20" font-size="6.1" text-anchor="middle" textLength="10.20" lengthAdjust="spacingAndGlyphs" stroke="#231f20" stroke-width="0.15">Tfrc</text>
<text x="401.10" y="329.75" font-size="9.2" text-anchor="middle" textLength="20.50" lengthAdjust="spacingAndGlyphs" stroke="#231f20" stroke-width="0.15" transform="rotate(-90 401.10 329.75)">FPKM</text>
<rect x="489.80" y="349.20" width="7.60" height="9.50" fill="#4a6389" stroke="#3b5688" stroke-width="0.5"/>
<rect x="501.10" y="322.20" width="7.50" height="36.50" fill="#a43444" stroke="#9b2033" stroke-width="0.5"/>
<line x1="493.60" y1="349.20" x2="493.60" y2="348.80" stroke="#555" stroke-width="0.9"/>
<line x1="491.80" y1="348.80" x2="495.40" y2="348.80" stroke="#333" stroke-width="0.9"/>
<line x1="504.85" y1="322.20" x2="504.85" y2="308.30" stroke="#555" stroke-width="0.9"/>
<line x1="503.05" y1="308.30" x2="506.65" y2="308.30" stroke="#333" stroke-width="0.9"/>
<line x1="485.30" y1="301.50" x2="485.30" y2="359.20" stroke="#231f20" stroke-width="1.1"/>
<line x1="484.80" y1="358.70" x2="512.60" y2="358.70" stroke="#231f20" stroke-width="1.1"/>
<line x1="482.20" y1="358.70" x2="485.30" y2="358.70" stroke="#231f20" stroke-width="0.9"/>
<text x="479.10" y="360.97" font-size="6.3" text-anchor="end" textLength="3.40" lengthAdjust="spacingAndGlyphs" fill="#2a2a2a" stroke="#2a2a2a" stroke-width="0.15">0</text>
<line x1="482.20" y1="345.07" x2="485.30" y2="345.07" stroke="#231f20" stroke-width="0.9"/>
<text x="479.10" y="347.34" font-size="6.3" text-anchor="end" textLength="10.20" lengthAdjust="spacingAndGlyphs" fill="#2a2a2a" stroke="#2a2a2a" stroke-width="0.15">200</text>
<line x1="482.20" y1="331.45" x2="485.30" y2="331.45" stroke="#231f20" stroke-width="0.9"/>
<text x="479.10" y="333.72" font-size="6.3" text-anchor="end" textLength="10.20" lengthAdjust="spacingAndGlyphs" fill="#2a2a2a" stroke="#2a2a2a" stroke-width="0.15">400</text>
<line x1="482.20" y1="317.82" x2="485.30" y2="317.82" stroke="#231f20" stroke-width="0.9"/>
<text x="479.10" y="320.09" font-size="6.3" text-anchor="end" textLength="10.20" lengthAdjust="spacingAndGlyphs" fill="#2a2a2a" stroke="#2a2a2a" stroke-width="0.15">600</text>
<line x1="482.20" y1="304.20" x2="485.30" y2="304.20" stroke="#231f20" stroke-width="0.9"/>
<text x="479.10" y="306.47" font-size="6.3" text-anchor="end" textLength="10.20" lengthAdjust="spacingAndGlyphs" fill="#2a2a2a" stroke="#2a2a2a" stroke-width="0.15">800</text>
<text x="499.20" y="299.20" font-size="6.1" text-anchor="middle" textLength="7.00" lengthAdjust="spacingAndGlyphs" stroke="#231f20" stroke-width="0.15">Trf</text>
<text x="464.40" y="329.75" font-size="9.2" text-anchor="middle" textLength="20.50" lengthAdjust="spacingAndGlyphs" stroke="#231f20" stroke-width="0.15" transform="rotate(-90 464.40 329.75)">FPKM</text>
<rect x="322.70" y="365.50" width="9.4" height="4.5" fill="#4a6389" stroke="#3b5688" stroke-width="0.4"/>
<rect x="397.40" y="365.50" width="9.4" height="4.5" fill="#a43444" stroke="#9b2033" stroke-width="0.4"/>
<text x="335.00" y="369.90" font-size="6.0" textLength="47.70" lengthAdjust="spacingAndGlyphs" fill="#231f20" stroke="#231f20" stroke-width="0.15">F4/80<tspan dy="-2.16" font-size="3.60">+</tspan><tspan dy="2.16">Epor-eGFP</tspan><tspan dy="-2.16" font-size="3.60">-</tspan><tspan dy="2.16"></tspan></text>
<text x="410.00" y="369.90" font-size="6.0" textLength="49.20" lengthAdjust="spacingAndGlyphs" fill="#231f20" stroke="#231f20" stroke-width="0.15">F4/80<tspan dy="-2.16" font-size="3.60">+</tspan><tspan dy="2.16">Epor-eGFP</tspan><tspan dy="-2.16" font-size="3.60">+</tspan><tspan dy="2.16"></tspan></text>
<line x1="45.20" y1="408.60" x2="230.80" y2="408.60" stroke="#4a4a4a" stroke-width="1.0"/>
<text x="103.40" y="403.10" font-size="8.7" textLength="73.70" lengthAdjust="spacingAndGlyphs" stroke="#231f20" stroke-width="0.15">Transcription factors</text>
<rect x="36.20" y="476.00" width="7.60" height="3.20" fill="#34497a" stroke="#1f2d50" stroke-width="0.6"/>
<rect x="47.40" y="437.50" width="7.40" height="41.70" fill="#a43444" stroke="#9b2033" stroke-width="0.5"/>
<line x1="40.00" y1="476.00" x2="40.00" y2="475.60" stroke="#555" stroke-width="0.9"/>
<line x1="38.20" y1="475.60" x2="41.80" y2="475.60" stroke="#333" stroke-width="0.9"/>
<line x1="51.10" y1="437.50" x2="51.10" y2="432.40" stroke="#555" stroke-width="0.9"/>
<line x1="49.30" y1="432.40" x2="52.90" y2="432.40" stroke="#333" stroke-width="0.9"/>
<line x1="32.60" y1="422.10" x2="32.60" y2="479.70" stroke="#231f20" stroke-width="1.1"/>
<line x1="32.10" y1="479.20" x2="58.80" y2="479.20" stroke="#231f20" stroke-width="1.1"/>
<line x1="29.50" y1="479.20" x2="32.60" y2="479.20" stroke="#231f20" stroke-width="0.9"/>
<text x="26.40" y="481.47" font-size="6.3" text-anchor="end" textLength="3.40" lengthAdjust="spacingAndGlyphs" fill="#2a2a2a" stroke="#2a2a2a" stroke-width="0.15">0</text>
<line x1="29.50" y1="468.36" x2="32.60" y2="468.36" stroke="#231f20" stroke-width="0.9"/>
<text x="26.40" y="470.63" font-size="6.3" text-anchor="end" textLength="3.40" lengthAdjust="spacingAndGlyphs" fill="#2a2a2a" stroke="#2a2a2a" stroke-width="0.15">5</text>
<line x1="29.50" y1="457.52" x2="32.60" y2="457.52" stroke="#231f20" stroke-width="0.9"/>
<text x="26.40" y="459.79" font-size="6.3" text-anchor="end" textLength="6.80" lengthAdjust="spacingAndGlyphs" fill="#2a2a2a" stroke="#2a2a2a" stroke-width="0.15">10</text>
<line x1="29.50" y1="446.68" x2="32.60" y2="446.68" stroke="#231f20" stroke-width="0.9"/>
<text x="26.40" y="448.95" font-size="6.3" text-anchor="end" textLength="6.80" lengthAdjust="spacingAndGlyphs" fill="#2a2a2a" stroke="#2a2a2a" stroke-width="0.15">15</text>
<line x1="29.50" y1="435.84" x2="32.60" y2="435.84" stroke="#231f20" stroke-width="0.9"/>
<text x="26.40" y="438.11" font-size="6.3" text-anchor="end" textLength="6.80" lengthAdjust="spacingAndGlyphs" fill="#2a2a2a" stroke="#2a2a2a" stroke-width="0.15">20</text>
<line x1="29.50" y1="425.00" x2="32.60" y2="425.00" stroke="#231f20" stroke-width="0.9"/>
<text x="26.40" y="427.27" font-size="6.3" text-anchor="end" textLength="6.80" lengthAdjust="spacingAndGlyphs" fill="#2a2a2a" stroke="#2a2a2a" stroke-width="0.15">25</text>
<text x="45.50" y="416.90" font-size="6.1" text-anchor="middle" textLength="9.20" lengthAdjust="spacingAndGlyphs" stroke="#231f20" stroke-width="0.15">Klf1</text>
<text x="14.10" y="450.40" font-size="9.2" text-anchor="middle" textLength="20.50" lengthAdjust="spacingAndGlyphs" stroke="#231f20" stroke-width="0.15" transform="rotate(-90 14.10 450.40)">FPKM</text>
<rect x="102.00" y="477.80" width="6.00" height="1.4" rx="0.6" fill="#1f2c4a"/>
<rect x="112.50" y="445.10" width="7.20" height="34.10" fill="#a43444" stroke="#9b2033" stroke-width="0.5"/>
<line x1="105.00" y1="477.80" x2="105.00" y2="477.40" stroke="#555" stroke-width="0.9"/>
<line x1="103.20" y1="477.40" x2="106.80" y2="477.40" stroke="#333" stroke-width="0.9"/>
<line x1="116.10" y1="445.10" x2="116.10" y2="433.20" stroke="#555" stroke-width="0.9"/>
<line x1="114.30" y1="433.20" x2="117.90" y2="433.20" stroke="#333" stroke-width="0.9"/>
<line x1="97.60" y1="422.10" x2="97.60" y2="479.70" stroke="#231f20" stroke-width="1.1"/>
<line x1="97.10" y1="479.20" x2="123.70" y2="479.20" stroke="#231f20" stroke-width="1.1"/>
<line x1="94.50" y1="479.20" x2="97.60" y2="479.20" stroke="#231f20" stroke-width="0.9"/>
<text x="91.40" y="481.47" font-size="6.3" text-anchor="end" textLength="3.40" lengthAdjust="spacingAndGlyphs" fill="#2a2a2a" stroke="#2a2a2a" stroke-width="0.15">0</text>
<line x1="94.50" y1="468.36" x2="97.60" y2="468.36" stroke="#231f20" stroke-width="0.9"/>
<text x="91.40" y="470.63" font-size="6.3" text-anchor="end" textLength="6.80" lengthAdjust="spacingAndGlyphs" fill="#2a2a2a" stroke="#2a2a2a" stroke-width="0.15">20</text>
<line x1="94.50" y1="457.52" x2="97.60" y2="457.52" stroke="#231f20" stroke-width="0.9"/>
<text x="91.40" y="459.79" font-size="6.3" text-anchor="end" textLength="6.80" lengthAdjust="spacingAndGlyphs" fill="#2a2a2a" stroke="#2a2a2a" stroke-width="0.15">40</text>
<line x1="94.50" y1="446.68" x2="97.60" y2="446.68" stroke="#231f20" stroke-width="0.9"/>
<text x="91.40" y="448.95" font-size="6.3" text-anchor="end" textLength="6.80" lengthAdjust="spacingAndGlyphs" fill="#2a2a2a" stroke="#2a2a2a" stroke-width="0.15">60</text>
<line x1="94.50" y1="435.84" x2="97.60" y2="435.84" stroke="#231f20" stroke-width="0.9"/>
<text x="91.40" y="438.11" font-size="6.3" text-anchor="end" textLength="6.80" lengthAdjust="spacingAndGlyphs" fill="#2a2a2a" stroke="#2a2a2a" stroke-width="0.15">80</text>
<line x1="94.50" y1="425.00" x2="97.60" y2="425.00" stroke="#231f20" stroke-width="0.9"/>
<text x="91.40" y="427.27" font-size="6.3" text-anchor="end" textLength="10.20" lengthAdjust="spacingAndGlyphs" fill="#2a2a2a" stroke="#2a2a2a" stroke-width="0.15">100</text>
<text x="109.55" y="416.90" font-size="6.1" text-anchor="middle" textLength="11.20" lengthAdjust="spacingAndGlyphs" stroke="#231f20" stroke-width="0.15">Spic</text>
<text x="75.40" y="450.40" font-size="9.2" text-anchor="middle" textLength="20.50" lengthAdjust="spacingAndGlyphs" stroke="#231f20" stroke-width="0.15" transform="rotate(-90 75.40 450.40)">FPKM</text>
<rect x="161.60" y="477.80" width="6.00" height="1.4" rx="0.6" fill="#1f2c4a"/>
<rect x="172.40" y="445.10" width="7.40" height="34.10" fill="#a43444" stroke="#9b2033" stroke-width="0.5"/>
<line x1="164.60" y1="477.80" x2="164.60" y2="477.50" stroke="#555" stroke-width="0.9"/>
<line x1="162.80" y1="477.50" x2="166.40" y2="477.50" stroke="#333" stroke-width="0.9"/>
<line x1="176.10" y1="445.10" x2="176.10" y2="433.90" stroke="#555" stroke-width="0.9"/>
<line x1="174.30" y1="433.90" x2="177.90" y2="433.90" stroke="#333" stroke-width="0.9"/>
<line x1="157.20" y1="422.10" x2="157.20" y2="479.70" stroke="#231f20" stroke-width="1.1"/>
<line x1="156.70" y1="479.20" x2="183.20" y2="479.20" stroke="#231f20" stroke-width="1.1"/>
<line x1="154.10" y1="479.20" x2="157.20" y2="479.20" stroke="#231f20" stroke-width="0.9"/>
<text x="151.00" y="481.47" font-size="6.3" text-anchor="end" textLength="3.40" lengthAdjust="spacingAndGlyphs" fill="#2a2a2a" stroke="#2a2a2a" stroke-width="0.15">0</text>
<line x1="154.10" y1="461.13" x2="157.20" y2="461.13" stroke="#231f20" stroke-width="0.9"/>
<text x="151.00" y="463.40" font-size="6.3" text-anchor="end" textLength="6.80" lengthAdjust="spacingAndGlyphs" fill="#2a2a2a" stroke="#2a2a2a" stroke-width="0.15">20</text>
<line x1="154.10" y1="443.07" x2="157.20" y2="443.07" stroke="#231f20" stroke-width="0.9"/>
<text x="151.00" y="445.33" font-size="6.3" text-anchor="end" textLength="6.80" lengthAdjust="spacingAndGlyphs" fill="#2a2a2a" stroke="#2a2a2a" stroke-width="0.15">40</text>
<line x1="154.10" y1="425.00" x2="157.20" y2="425.00" stroke="#231f20" stroke-width="0.9"/>
<text x="151.00" y="427.27" font-size="6.3" text-anchor="end" textLength="6.80" lengthAdjust="spacingAndGlyphs" fill="#2a2a2a" stroke="#2a2a2a" stroke-width="0.15">60</text>
<text x="170.30" y="416.90" font-size="6.1" text-anchor="middle" textLength="16.30" lengthAdjust="spacingAndGlyphs" stroke="#231f20" stroke-width="0.15">Nr1h3</text>
<text x="139.50" y="450.40" font-size="9.2" text-anchor="middle" textLength="20.50" lengthAdjust="spacingAndGlyphs" stroke="#231f20" stroke-width="0.15" transform="rotate(-90 139.50 450.40)">FPKM</text>
<rect x="222.20" y="475.10" width="7.20" height="4.10" fill="#4a6389" stroke="#3b5688" stroke-width="0.5"/>
<rect x="233.00" y="443.80" width="7.30" height="35.40" fill="#a43444" stroke="#9b2033" stroke-width="0.5"/>
<line x1="225.80" y1="475.10" x2="225.80" y2="474.20" stroke="#555" stroke-width="0.9"/>
<line x1="224.00" y1="474.20" x2="227.60" y2="474.20" stroke="#333" stroke-width="0.9"/>
<line x1="236.65" y1="443.80" x2="236.65" y2="434.10" stroke="#555" stroke-width="0.9"/>
<line x1="234.85" y1="434.10" x2="238.45" y2="434.10" stroke="#333" stroke-width="0.9"/>
<line x1="218.00" y1="422.10" x2="218.00" y2="479.70" stroke="#231f20" stroke-width="1.1"/>
<line x1="217.50" y1="479.20" x2="243.90" y2="479.20" stroke="#231f20" stroke-width="1.1"/>
<line x1="214.90" y1="479.20" x2="218.00" y2="479.20" stroke="#231f20" stroke-width="0.9"/>
<text x="211.80" y="481.47" font-size="6.3" text-anchor="end" textLength="3.40" lengthAdjust="spacingAndGlyphs" fill="#2a2a2a" stroke="#2a2a2a" stroke-width="0.15">0</text>
<line x1="214.90" y1="468.36" x2="218.00" y2="468.36" stroke="#231f20" stroke-width="0.9"/>
<text x="211.80" y="470.63" font-size="6.3" text-anchor="end" textLength="6.80" lengthAdjust="spacingAndGlyphs" fill="#2a2a2a" stroke="#2a2a2a" stroke-width="0.15">10</text>
<line x1="214.90" y1="457.52" x2="218.00" y2="457.52" stroke="#231f20" stroke-width="0.9"/>
<text x="211.80" y="459.79" font-size="6.3" text-anchor="end" textLength="6.80" lengthAdjust="spacingAndGlyphs" fill="#2a2a2a" stroke="#2a2a2a" stroke-width="0.15">20</text>
<line x1="214.90" y1="446.68" x2="218.00" y2="446.68" stroke="#231f20" stroke-width="0.9"/>
<text x="211.80" y="448.95" font-size="6.3" text-anchor="end" textLength="6.80" lengthAdjust="spacingAndGlyphs" fill="#2a2a2a" stroke="#2a2a2a" stroke-width="0.15">30</text>
<line x1="214.90" y1="435.84" x2="218.00" y2="435.84" stroke="#231f20" stroke-width="0.9"/>
<text x="211.80" y="438.11" font-size="6.3" text-anchor="end" textLength="6.80" lengthAdjust="spacingAndGlyphs" fill="#2a2a2a" stroke="#2a2a2a" stroke-width="0.15">40</text>
<line x1="214.90" y1="425.00" x2="218.00" y2="425.00" stroke="#231f20" stroke-width="0.9"/>
<text x="211.80" y="427.27" font-size="6.3" text-anchor="end" textLength="6.80" lengthAdjust="spacingAndGlyphs" fill="#2a2a2a" stroke="#2a2a2a" stroke-width="0.15">50</text>
<text x="230.35" y="416.90" font-size="6.1" text-anchor="middle" textLength="9.90" lengthAdjust="spacingAndGlyphs" stroke="#231f20" stroke-width="0.15" font-style="italic">Maf</text>
<text x="201.80" y="450.40" font-size="9.2" text-anchor="middle" textLength="20.50" lengthAdjust="spacingAndGlyphs" stroke="#231f20" stroke-width="0.15" transform="rotate(-90 201.80 450.40)">FPKM</text>
<rect x="48.90" y="485.90" width="9.4" height="4.5" fill="#4a6389" stroke="#3b5688" stroke-width="0.4"/>
<rect x="123.80" y="485.90" width="9.4" height="4.5" fill="#a43444" stroke="#9b2033" stroke-width="0.4"/>
<text x="61.20" y="490.30" font-size="6.0" textLength="47.30" lengthAdjust="spacingAndGlyphs" fill="#231f20" stroke="#231f20" stroke-width="0.15">F4/80<tspan dy="-2.16" font-size="3.60">+</tspan><tspan dy="2.16">Epor-eGFP</tspan><tspan dy="-2.16" font-size="3.60">-</tspan><tspan dy="2.16"></tspan></text>
<text x="135.80" y="490.30" font-size="6.0" textLength="49.60" lengthAdjust="spacingAndGlyphs" fill="#231f20" stroke="#231f20" stroke-width="0.15">F4/80<tspan dy="-2.16" font-size="3.60">+</tspan><tspan dy="2.16">Epor-eGFP</tspan><tspan dy="-2.16" font-size="3.60">+</tspan><tspan dy="2.16"></tspan></text>
<line x1="306.50" y1="408.60" x2="415.60" y2="408.60" stroke="#4a4a4a" stroke-width="1.0"/>
<text x="334.10" y="403.30" font-size="8.7" textLength="53.70" lengthAdjust="spacingAndGlyphs" stroke="#231f20" stroke-width="0.15">Growth factors</text>
<rect x="297.00" y="477.90" width="5.70" height="1.4" rx="0.6" fill="#1f2c4a"/>
<rect x="307.10" y="442.40" width="7.20" height="36.90" fill="#a43444" stroke="#9b2033" stroke-width="0.5"/>
<line x1="310.70" y1="442.40" x2="310.70" y2="427.60" stroke="#555" stroke-width="0.9"/>
<line x1="308.90" y1="427.60" x2="312.50" y2="427.60" stroke="#333" stroke-width="0.9"/>
<line x1="292.60" y1="422.10" x2="292.60" y2="479.80" stroke="#231f20" stroke-width="1.1"/>
<line x1="292.10" y1="479.30" x2="317.90" y2="479.30" stroke="#231f20" stroke-width="1.1"/>
<line x1="289.50" y1="479.30" x2="292.60" y2="479.30" stroke="#231f20" stroke-width="0.9"/>
<text x="286.40" y="481.57" font-size="6.3" text-anchor="end" textLength="3.40" lengthAdjust="spacingAndGlyphs" fill="#2a2a2a" stroke="#2a2a2a" stroke-width="0.15">0</text>
<line x1="289.50" y1="465.55" x2="292.60" y2="465.55" stroke="#231f20" stroke-width="0.9"/>
<text x="286.40" y="467.82" font-size="6.3" text-anchor="end" textLength="6.80" lengthAdjust="spacingAndGlyphs" fill="#2a2a2a" stroke="#2a2a2a" stroke-width="0.15">10</text>
<line x1="289.50" y1="451.80" x2="292.60" y2="451.80" stroke="#231f20" stroke-width="0.9"/>
<text x="286.40" y="454.07" font-size="6.3" text-anchor="end" textLength="6.80" lengthAdjust="spacingAndGlyphs" fill="#2a2a2a" stroke="#2a2a2a" stroke-width="0.15">20</text>
<line x1="289.50" y1="438.05" x2="292.60" y2="438.05" stroke="#231f20" stroke-width="0.9"/>
<text x="286.40" y="440.32" font-size="6.3" text-anchor="end" textLength="6.80" lengthAdjust="spacingAndGlyphs" fill="#2a2a2a" stroke="#2a2a2a" stroke-width="0.15">30</text>
<line x1="289.50" y1="424.30" x2="292.60" y2="424.30" stroke="#231f20" stroke-width="0.9"/>
<text x="286.40" y="426.57" font-size="6.3" text-anchor="end" textLength="6.80" lengthAdjust="spacingAndGlyphs" fill="#2a2a2a" stroke="#2a2a2a" stroke-width="0.15">40</text>
<text x="305.25" y="416.50" font-size="6.1" text-anchor="middle" textLength="9.80" lengthAdjust="spacingAndGlyphs" stroke="#231f20" stroke-width="0.15">Igf1</text>
<text x="274.00" y="450.10" font-size="9.2" text-anchor="middle" textLength="20.50" lengthAdjust="spacingAndGlyphs" stroke="#231f20" stroke-width="0.15" font-style="italic" transform="rotate(-90 274.00 450.10)">FPKM</text>
<rect x="352.20" y="472.40" width="7.20" height="6.90" fill="#4a6389" stroke="#3b5688" stroke-width="0.5"/>
<rect x="362.50" y="443.50" width="7.60" height="35.80" fill="#a43444" stroke="#9b2033" stroke-width="0.5"/>
<line x1="355.80" y1="472.40" x2="355.80" y2="472.00" stroke="#555" stroke-width="0.9"/>
<line x1="354.00" y1="472.00" x2="357.60" y2="472.00" stroke="#333" stroke-width="0.9"/>
<line x1="366.30" y1="443.50" x2="366.30" y2="429.00" stroke="#555" stroke-width="0.9"/>
<line x1="364.50" y1="429.00" x2="368.10" y2="429.00" stroke="#333" stroke-width="0.9"/>
<line x1="348.00" y1="422.10" x2="348.00" y2="479.80" stroke="#231f20" stroke-width="1.1"/>
<line x1="347.50" y1="479.30" x2="373.90" y2="479.30" stroke="#231f20" stroke-width="1.1"/>
<line x1="344.90" y1="479.30" x2="348.00" y2="479.30" stroke="#231f20" stroke-width="0.9"/>
<text x="341.80" y="481.57" font-size="6.3" text-anchor="end" textLength="3.40" lengthAdjust="spacingAndGlyphs" fill="#2a2a2a" stroke="#2a2a2a" stroke-width="0.15">0</text>
<line x1="344.90" y1="460.97" x2="348.00" y2="460.97" stroke="#231f20" stroke-width="0.9"/>
<text x="341.80" y="463.23" font-size="6.3" text-anchor="end" textLength="6.80" lengthAdjust="spacingAndGlyphs" fill="#2a2a2a" stroke="#2a2a2a" stroke-width="0.15">20</text>
<line x1="344.90" y1="442.63" x2="348.00" y2="442.63" stroke="#231f20" stroke-width="0.9"/>
<text x="341.80" y="444.90" font-size="6.3" text-anchor="end" textLength="6.80" lengthAdjust="spacingAndGlyphs" fill="#2a2a2a" stroke="#2a2a2a" stroke-width="0.15">40</text>
<line x1="344.90" y1="424.30" x2="348.00" y2="424.30" stroke="#231f20" stroke-width="0.9"/>
<text x="341.80" y="426.57" font-size="6.3" text-anchor="end" textLength="6.80" lengthAdjust="spacingAndGlyphs" fill="#2a2a2a" stroke="#2a2a2a" stroke-width="0.15">60</text>
<text x="361.15" y="416.50" font-size="6.1" text-anchor="middle" textLength="11.50" lengthAdjust="spacingAndGlyphs" stroke="#231f20" stroke-width="0.15">Il-18</text>
<text x="330.00" y="450.10" font-size="9.2" text-anchor="middle" textLength="20.50" lengthAdjust="spacingAndGlyphs" stroke="#231f20" stroke-width="0.15" font-style="italic" transform="rotate(-90 330.00 450.10)">FPKM</text>
<rect x="408.00" y="468.60" width="7.20" height="10.70" fill="#4a6389" stroke="#3b5688" stroke-width="0.5"/>
<rect x="418.80" y="442.60" width="6.90" height="36.70" fill="#a43444" stroke="#9b2033" stroke-width="0.5"/>
<line x1="411.60" y1="468.60" x2="411.60" y2="467.30" stroke="#555" stroke-width="0.9"/>
<line x1="409.80" y1="467.30" x2="413.40" y2="467.30" stroke="#333" stroke-width="0.9"/>
<line x1="422.25" y1="442.60" x2="422.25" y2="434.40" stroke="#555" stroke-width="0.9"/>
<line x1="420.45" y1="434.40" x2="424.05" y2="434.40" stroke="#333" stroke-width="0.9"/>
<line x1="404.00" y1="422.10" x2="404.00" y2="479.80" stroke="#231f20" stroke-width="1.1"/>
<line x1="403.50" y1="479.30" x2="429.70" y2="479.30" stroke="#231f20" stroke-width="1.1"/>
<line x1="400.90" y1="479.30" x2="404.00" y2="479.30" stroke="#231f20" stroke-width="0.9"/>
<text x="397.80" y="481.57" font-size="6.3" text-anchor="end" textLength="3.40" lengthAdjust="spacingAndGlyphs" fill="#2a2a2a" stroke="#2a2a2a" stroke-width="0.15">0</text>
<line x1="400.90" y1="465.55" x2="404.00" y2="465.55" stroke="#231f20" stroke-width="0.9"/>
<text x="397.80" y="467.82" font-size="6.3" text-anchor="end" textLength="6.80" lengthAdjust="spacingAndGlyphs" fill="#2a2a2a" stroke="#2a2a2a" stroke-width="0.15">10</text>
<line x1="400.90" y1="451.80" x2="404.00" y2="451.80" stroke="#231f20" stroke-width="0.9"/>
<text x="397.80" y="454.07" font-size="6.3" text-anchor="end" textLength="6.80" lengthAdjust="spacingAndGlyphs" fill="#2a2a2a" stroke="#2a2a2a" stroke-width="0.15">20</text>
<line x1="400.90" y1="438.05" x2="404.00" y2="438.05" stroke="#231f20" stroke-width="0.9"/>
<text x="397.80" y="440.32" font-size="6.3" text-anchor="end" textLength="6.80" lengthAdjust="spacingAndGlyphs" fill="#2a2a2a" stroke="#2a2a2a" stroke-width="0.15">30</text>
<line x1="400.90" y1="424.30" x2="404.00" y2="424.30" stroke="#231f20" stroke-width="0.9"/>
<text x="397.80" y="426.57" font-size="6.3" text-anchor="end" textLength="6.80" lengthAdjust="spacingAndGlyphs" fill="#2a2a2a" stroke="#2a2a2a" stroke-width="0.15">40</text>
<text x="416.85" y="416.50" font-size="6.1" text-anchor="middle" textLength="16.00" lengthAdjust="spacingAndGlyphs" stroke="#231f20" stroke-width="0.15">Vegfb</text>
<text x="386.30" y="450.10" font-size="9.2" text-anchor="middle" textLength="20.50" lengthAdjust="spacingAndGlyphs" stroke="#231f20" stroke-width="0.15" font-style="italic" transform="rotate(-90 386.30 450.10)">FPKM</text>
<rect x="289.80" y="486.30" width="9.4" height="4.5" fill="#4a6389" stroke="#3b5688" stroke-width="0.4"/>
<rect x="364.60" y="486.30" width="9.4" height="4.5" fill="#a43444" stroke="#9b2033" stroke-width="0.4"/>
<text x="303.10" y="490.70" font-size="6.0" textLength="48.30" lengthAdjust="spacingAndGlyphs" fill="#231f20" stroke="#231f20" stroke-width="0.15">F4/80<tspan dy="-2.16" font-size="3.60">+</tspan><tspan dy="2.16">Epor-eGFP</tspan><tspan dy="-2.16" font-size="3.60">-</tspan><tspan dy="2.16"></tspan></text>
<text x="377.80" y="490.70" font-size="6.0" textLength="49.30" lengthAdjust="spacingAndGlyphs" fill="#231f20" stroke="#231f20" stroke-width="0.15">F4/80<tspan dy="-2.16" font-size="3.60">+</tspan><tspan dy="2.16">Epor-eGFP</tspan><tspan dy="-2.16" font-size="3.60">+</tspan><tspan dy="2.16"></tspan></text>
</svg>
</body></html>
